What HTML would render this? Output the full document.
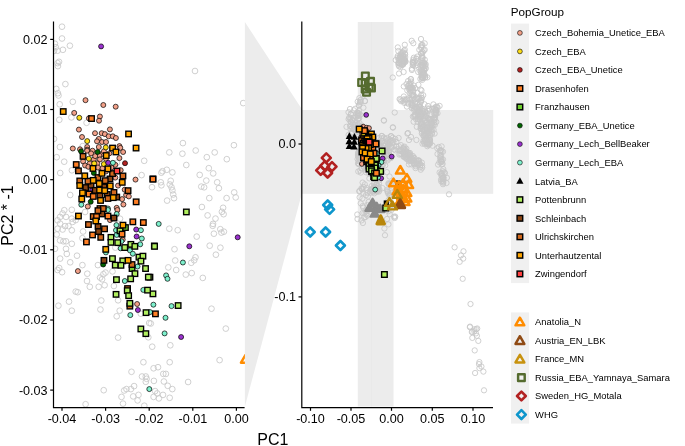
<!DOCTYPE html>
<html><head><meta charset="utf-8"><title>PCA</title>
<style>html,body{margin:0;padding:0;background:#fff;overflow:hidden}body{width:685px;height:446px}svg{display:block;will-change:transform}</style></head>
<body>
<svg width="685" height="446" viewBox="0 0 685 446" font-family="Liberation Sans, sans-serif">
<rect width="685" height="446" fill="#fff"/>
<polygon points="244.9,22 301.8,109 301.8,193.8 244.9,406.5" fill="#ececec"/>
<rect x="357.8" y="22" width="35.7" height="384.5" fill="#ececec"/>
<rect x="371.1" y="22" width="0.5" height="384.5" fill="#e6e6e6"/>
<rect x="301.8" y="110" width="191.4" height="83.8" fill="#ececec"/>
<defs><clipPath id="cl"><rect x="53.5" y="22" width="191.4" height="385"/></clipPath></defs>
<g clip-path="url(#cl)">
<g fill="none" stroke="#c8c8c8" stroke-width="0.85">
<circle cx="62" cy="26.7" r="2.85"/>
<circle cx="62" cy="38.5" r="2.85"/>
<circle cx="69.9" cy="45.7" r="2.85"/>
<circle cx="54.9" cy="43.7" r="2.85"/>
<circle cx="55.8" cy="47.3" r="2.85"/>
<circle cx="57.6" cy="50.7" r="2.85"/>
<circle cx="62.9" cy="49.8" r="2.85"/>
<circle cx="59" cy="61.8" r="2.85"/>
<circle cx="57.6" cy="63.1" r="2.85"/>
<circle cx="57.9" cy="66.1" r="2.85"/>
<circle cx="65.4" cy="84.1" r="2.85"/>
<circle cx="56.3" cy="88.9" r="2.85"/>
<circle cx="57.9" cy="93.2" r="2.85"/>
<circle cx="54" cy="50.9" r="2.85"/>
<circle cx="195" cy="71" r="2.85"/>
<circle cx="58.5" cy="95.5" r="2.85"/>
<circle cx="72.8" cy="101.8" r="2.85"/>
<circle cx="59.7" cy="104.3" r="2.85"/>
<circle cx="59.3" cy="119.8" r="2.85"/>
<circle cx="71.4" cy="117.4" r="2.85"/>
<circle cx="86.6" cy="122.8" r="2.85"/>
<circle cx="59.9" cy="147" r="2.85"/>
<circle cx="56.7" cy="157.2" r="2.85"/>
<circle cx="64.2" cy="161.7" r="2.85"/>
<circle cx="71.9" cy="170.3" r="2.85"/>
<circle cx="60.2" cy="173" r="2.85"/>
<circle cx="162.5" cy="171.2" r="2.85"/>
<circle cx="54" cy="138.9" r="2.85"/>
<circle cx="82.7" cy="146.1" r="2.85"/>
<circle cx="243.2" cy="103.1" r="2.85"/>
<circle cx="182.9" cy="143.1" r="2.85"/>
<circle cx="233.9" cy="145.2" r="2.85"/>
<circle cx="144.2" cy="160.8" r="2.85"/>
<circle cx="141.6" cy="175.1" r="2.85"/>
<circle cx="152" cy="187.2" r="2.85"/>
<circle cx="116.9" cy="162.8" r="2.85"/>
<circle cx="85.1" cy="212" r="2.85"/>
<circle cx="83.1" cy="231.5" r="2.85"/>
<circle cx="82.4" cy="238.2" r="2.85"/>
<circle cx="77" cy="255.7" r="2.85"/>
<circle cx="82.4" cy="265.1" r="2.85"/>
<circle cx="97.9" cy="265.1" r="2.85"/>
<circle cx="75.7" cy="220.1" r="2.85"/>
<circle cx="120" cy="218.7" r="2.85"/>
<circle cx="115.3" cy="247.6" r="2.85"/>
<circle cx="169.3" cy="152.4" r="2.85"/>
<circle cx="182.4" cy="153.7" r="2.85"/>
<circle cx="195.7" cy="150.5" r="2.85"/>
<circle cx="214.7" cy="152.4" r="2.85"/>
<circle cx="206.8" cy="157.2" r="2.85"/>
<circle cx="226.8" cy="159.2" r="2.85"/>
<circle cx="186.3" cy="165" r="2.85"/>
<circle cx="208.8" cy="168.2" r="2.85"/>
<circle cx="166.8" cy="169.8" r="2.85"/>
<circle cx="161.4" cy="172.7" r="2.85"/>
<circle cx="172.4" cy="172.4" r="2.85"/>
<circle cx="213.2" cy="173.4" r="2.85"/>
<circle cx="199.7" cy="174.9" r="2.85"/>
<circle cx="206.3" cy="180.6" r="2.85"/>
<circle cx="170.7" cy="180.8" r="2.85"/>
<circle cx="160.8" cy="182.3" r="2.85"/>
<circle cx="161.4" cy="185.3" r="2.85"/>
<circle cx="169.8" cy="184.5" r="2.85"/>
<circle cx="171.5" cy="187.3" r="2.85"/>
<circle cx="172.4" cy="190.3" r="2.85"/>
<circle cx="173.2" cy="194.5" r="2.85"/>
<circle cx="174" cy="198.2" r="2.85"/>
<circle cx="217.2" cy="182.3" r="2.85"/>
<circle cx="218.9" cy="188.2" r="2.85"/>
<circle cx="201.3" cy="186.6" r="2.85"/>
<circle cx="204.1" cy="187.3" r="2.85"/>
<circle cx="234.2" cy="192.4" r="2.85"/>
<circle cx="235.7" cy="197.4" r="2.85"/>
<circle cx="226.6" cy="198.1" r="2.85"/>
<circle cx="209.3" cy="198.1" r="2.85"/>
<circle cx="167.1" cy="200.6" r="2.85"/>
<circle cx="201.9" cy="207" r="2.85"/>
<circle cx="223.1" cy="207.8" r="2.85"/>
<circle cx="221.9" cy="211.8" r="2.85"/>
<circle cx="223.6" cy="214.2" r="2.85"/>
<circle cx="207.6" cy="215.4" r="2.85"/>
<circle cx="215.5" cy="218.6" r="2.85"/>
<circle cx="213" cy="223.9" r="2.85"/>
<circle cx="169.3" cy="228.7" r="2.85"/>
<circle cx="177.7" cy="230.2" r="2.85"/>
<circle cx="212.7" cy="225.8" r="2.85"/>
<circle cx="220.3" cy="229.2" r="2.85"/>
<circle cx="223.9" cy="231.7" r="2.85"/>
<circle cx="221.4" cy="232.6" r="2.85"/>
<circle cx="213.9" cy="233.7" r="2.85"/>
<circle cx="196.7" cy="236.6" r="2.85"/>
<circle cx="209.7" cy="245.7" r="2.85"/>
<circle cx="220.4" cy="247.7" r="2.85"/>
<circle cx="174.5" cy="249.2" r="2.85"/>
<circle cx="215.9" cy="254.7" r="2.85"/>
<circle cx="195.5" cy="257.3" r="2.85"/>
<circle cx="194.2" cy="260.3" r="2.85"/>
<circle cx="191.2" cy="262.8" r="2.85"/>
<circle cx="175.2" cy="260.5" r="2.85"/>
<circle cx="168.3" cy="267.4" r="2.85"/>
<circle cx="176.2" cy="270" r="2.85"/>
<circle cx="191.7" cy="273.1" r="2.85"/>
<circle cx="185.8" cy="274.6" r="2.85"/>
<circle cx="202.8" cy="277.9" r="2.85"/>
<circle cx="211.5" cy="308.7" r="2.85"/>
<circle cx="225.8" cy="328.6" r="2.85"/>
<circle cx="150.8" cy="323.5" r="2.85"/>
<circle cx="152.2" cy="346.7" r="2.85"/>
<circle cx="170.3" cy="345.3" r="2.85"/>
<circle cx="143.4" cy="362.2" r="2.85"/>
<circle cx="169.7" cy="362.2" r="2.85"/>
<circle cx="219.6" cy="360.1" r="2.85"/>
<circle cx="153.6" cy="368.3" r="2.85"/>
<circle cx="158" cy="367.2" r="2.85"/>
<circle cx="131.5" cy="371.8" r="2.85"/>
<circle cx="163.3" cy="373.9" r="2.85"/>
<circle cx="165.9" cy="373.9" r="2.85"/>
<circle cx="142" cy="376.5" r="2.85"/>
<circle cx="145.8" cy="376.5" r="2.85"/>
<circle cx="146.6" cy="378.8" r="2.85"/>
<circle cx="145.8" cy="381.8" r="2.85"/>
<circle cx="153.9" cy="380.9" r="2.85"/>
<circle cx="163.9" cy="381.5" r="2.85"/>
<circle cx="188.1" cy="382" r="2.85"/>
<circle cx="167.7" cy="385.8" r="2.85"/>
<circle cx="172.3" cy="389.1" r="2.85"/>
<circle cx="134.1" cy="386.1" r="2.85"/>
<circle cx="130.9" cy="389.1" r="2.85"/>
<circle cx="126.5" cy="389.1" r="2.85"/>
<circle cx="124.2" cy="390.5" r="2.85"/>
<circle cx="103.7" cy="390.2" r="2.85"/>
<circle cx="155.1" cy="391.1" r="2.85"/>
<circle cx="157.2" cy="393.4" r="2.85"/>
<circle cx="163" cy="394.9" r="2.85"/>
<circle cx="121.5" cy="396.9" r="2.85"/>
<circle cx="133.2" cy="396.4" r="2.85"/>
<circle cx="138.5" cy="394.9" r="2.85"/>
<circle cx="153.6" cy="396.9" r="2.85"/>
<circle cx="158.9" cy="398.4" r="2.85"/>
<circle cx="169.7" cy="397.8" r="2.85"/>
<circle cx="137.6" cy="400.4" r="2.85"/>
<circle cx="123" cy="403.6" r="2.85"/>
<circle cx="144.3" cy="405.7" r="2.85"/>
<circle cx="85.6" cy="404.2" r="2.85"/>
<circle cx="57.6" cy="270" r="2.85"/>
<circle cx="62.1" cy="272.2" r="2.85"/>
<circle cx="59.2" cy="268" r="2.85"/>
<circle cx="87.3" cy="273.7" r="2.85"/>
<circle cx="87" cy="281" r="2.85"/>
<circle cx="89.8" cy="286.8" r="2.85"/>
<circle cx="98.7" cy="286.8" r="2.85"/>
<circle cx="104.6" cy="285.2" r="2.85"/>
<circle cx="100.1" cy="277.6" r="2.85"/>
<circle cx="102.1" cy="279.3" r="2.85"/>
<circle cx="103.4" cy="274.2" r="2.85"/>
<circle cx="105.5" cy="272.6" r="2.85"/>
<circle cx="112.5" cy="271.4" r="2.85"/>
<circle cx="113.9" cy="286" r="2.85"/>
<circle cx="77.7" cy="292.2" r="2.85"/>
<circle cx="75.7" cy="291.6" r="2.85"/>
<circle cx="69" cy="301.6" r="2.85"/>
<circle cx="58.4" cy="305.7" r="2.85"/>
<circle cx="71.8" cy="310.7" r="2.85"/>
<circle cx="101.3" cy="300.5" r="2.85"/>
<circle cx="100.4" cy="309.5" r="2.85"/>
<circle cx="118.1" cy="300.3" r="2.85"/>
<circle cx="119.7" cy="310.7" r="2.85"/>
<circle cx="116.7" cy="316.3" r="2.85"/>
<circle cx="149.2" cy="323" r="2.85"/>
<circle cx="118.1" cy="337.6" r="2.85"/>
<circle cx="148.3" cy="337.3" r="2.85"/>
<circle cx="140.8" cy="313.7" r="2.85"/>
<circle cx="70.2" cy="195" r="2.85"/>
<circle cx="64.3" cy="210.2" r="2.85"/>
<circle cx="71.8" cy="209.8" r="2.85"/>
<circle cx="62.6" cy="213.5" r="2.85"/>
<circle cx="60.1" cy="216.9" r="2.85"/>
<circle cx="57.6" cy="220.3" r="2.85"/>
<circle cx="66" cy="216.9" r="2.85"/>
<circle cx="71.8" cy="218.6" r="2.85"/>
<circle cx="72.7" cy="221.9" r="2.85"/>
<circle cx="60.1" cy="223.6" r="2.85"/>
<circle cx="65.1" cy="226.1" r="2.85"/>
<circle cx="68.5" cy="226.1" r="2.85"/>
<circle cx="57.6" cy="228.7" r="2.85"/>
<circle cx="62.6" cy="229.5" r="2.85"/>
<circle cx="71.8" cy="230.3" r="2.85"/>
<circle cx="56.7" cy="234.5" r="2.85"/>
<circle cx="60.1" cy="240.4" r="2.85"/>
<circle cx="63.4" cy="241.3" r="2.85"/>
<circle cx="66" cy="241.3" r="2.85"/>
<circle cx="71.8" cy="243.8" r="2.85"/>
<circle cx="55" cy="248.8" r="2.85"/>
<circle cx="66" cy="248.8" r="2.85"/>
<circle cx="60.1" cy="258.6" r="2.85"/>
<circle cx="70.2" cy="262.3" r="2.85"/>
<circle cx="66.8" cy="253.9" r="2.85"/>
</g>
<g fill="#F2A088" stroke="#000" stroke-width="0.7">
<circle cx="85.5" cy="100.2" r="2.5"/>
<circle cx="103.3" cy="105" r="2.5"/>
<circle cx="115.7" cy="106.7" r="2.5"/>
<circle cx="74.2" cy="112.9" r="2.5"/>
<circle cx="99.9" cy="116.5" r="2.5"/>
<circle cx="99" cy="120.7" r="2.5"/>
<circle cx="88.9" cy="118.3" r="2.5"/>
<circle cx="78.9" cy="129.6" r="2.5"/>
<circle cx="109.9" cy="129.4" r="2.5"/>
<circle cx="95" cy="133.2" r="2.5"/>
<circle cx="101.7" cy="133.2" r="2.5"/>
<circle cx="104.9" cy="134.1" r="2.5"/>
<circle cx="108.7" cy="136.3" r="2.5"/>
<circle cx="112.8" cy="136.3" r="2.5"/>
<circle cx="115.9" cy="138" r="2.5"/>
<circle cx="82" cy="137" r="2.5"/>
<circle cx="98.8" cy="138.9" r="2.5"/>
<circle cx="102" cy="142" r="2.5"/>
<circle cx="97" cy="141.3" r="2.5"/>
<circle cx="106" cy="142" r="2.5"/>
<circle cx="98.8" cy="147" r="2.5"/>
<circle cx="87.2" cy="147" r="2.5"/>
<circle cx="72.8" cy="148.5" r="2.5"/>
<circle cx="80" cy="149.3" r="2.5"/>
<circle cx="87.2" cy="149.7" r="2.5"/>
<circle cx="119.4" cy="146.1" r="2.5"/>
<circle cx="120.3" cy="147.9" r="2.5"/>
<circle cx="83.1" cy="161.4" r="2.5"/>
<circle cx="93.8" cy="159.4" r="2.5"/>
<circle cx="105.9" cy="158.7" r="2.5"/>
<circle cx="101.9" cy="154" r="2.5"/>
<circle cx="109.3" cy="153.4" r="2.5"/>
<circle cx="92.5" cy="150.7" r="2.5"/>
<circle cx="99.2" cy="155.4" r="2.5"/>
<circle cx="85.1" cy="165.5" r="2.5"/>
<circle cx="105.9" cy="171.5" r="2.5"/>
<circle cx="115.3" cy="164.8" r="2.5"/>
<circle cx="119.4" cy="158.1" r="2.5"/>
<circle cx="87.1" cy="150.7" r="2.5"/>
<circle cx="91.1" cy="153.4" r="2.5"/>
<circle cx="103.9" cy="151.3" r="2.5"/>
<circle cx="123.1" cy="152" r="2.5"/>
<circle cx="95.2" cy="156.1" r="2.5"/>
<circle cx="99.9" cy="159.4" r="2.5"/>
<circle cx="89.8" cy="163.4" r="2.5"/>
<circle cx="97.2" cy="163.4" r="2.5"/>
<circle cx="88.4" cy="166.8" r="2.5"/>
<circle cx="97.9" cy="167.5" r="2.5"/>
<circle cx="102.6" cy="168.2" r="2.5"/>
<circle cx="120.7" cy="170.2" r="2.5"/>
<circle cx="111.3" cy="167.5" r="2.5"/>
<circle cx="115.3" cy="177.6" r="2.5"/>
<circle cx="118" cy="185.6" r="2.5"/>
<circle cx="135.5" cy="179.6" r="2.5"/>
<circle cx="124.7" cy="189.7" r="2.5"/>
<circle cx="126.1" cy="195" r="2.5"/>
<circle cx="128.8" cy="196.4" r="2.5"/>
<circle cx="122.1" cy="199.1" r="2.5"/>
<circle cx="123.4" cy="204.5" r="2.5"/>
<circle cx="116.7" cy="207.8" r="2.5"/>
<circle cx="87.8" cy="206.5" r="2.5"/>
<circle cx="110" cy="220.1" r="2.5"/>
<circle cx="122.7" cy="239.6" r="2.5"/>
<circle cx="129.5" cy="248.3" r="2.5"/>
<circle cx="117.4" cy="210" r="2.5"/>
<circle cx="77.9" cy="271.1" r="2.5"/>
<circle cx="137.1" cy="304" r="2.5"/>
</g>
<g fill="#FCDC16" stroke="#000" stroke-width="0.7">
<circle cx="79.3" cy="117.8" r="2.5"/>
<circle cx="87.2" cy="141.1" r="2.5"/>
<circle cx="105.8" cy="147.4" r="2.5"/>
<circle cx="88.8" cy="158.7" r="2.5"/>
<circle cx="94.2" cy="163.4" r="2.5"/>
<circle cx="103.9" cy="164.1" r="2.5"/>
</g>
<g fill="#B22222" stroke="#000" stroke-width="0.7">
<circle cx="125" cy="163.2" r="2.5"/>
</g>
<g fill="#006400" stroke="#000" stroke-width="0.7">
<circle cx="81.1" cy="151.3" r="2.5"/>
<circle cx="97.6" cy="152" r="2.5"/>
<circle cx="93.8" cy="172.9" r="2.5"/>
<circle cx="90.7" cy="201.8" r="2.5"/>
<circle cx="103.2" cy="264.5" r="2.5"/>
</g>
<g fill="#9A32CD" stroke="#000" stroke-width="0.7">
<circle cx="101.1" cy="46.4" r="2.5"/>
<circle cx="108.2" cy="162.8" r="2.5"/>
<circle cx="92.2" cy="190.1" r="2.5"/>
<circle cx="136.2" cy="229.5" r="2.5"/>
<circle cx="136.6" cy="236.5" r="2.5"/>
<circle cx="189.3" cy="246.3" r="2.5"/>
<circle cx="237.7" cy="237.3" r="2.5"/>
<circle cx="181.1" cy="337" r="2.5"/>
<circle cx="137.9" cy="310" r="2.5"/>
</g>
<g fill="#7DF0CC" stroke="#000" stroke-width="0.7">
<circle cx="112.9" cy="162.8" r="2.5"/>
<circle cx="81.3" cy="204.7" r="2.5"/>
<circle cx="107.9" cy="208.5" r="2.5"/>
<circle cx="107.9" cy="210" r="2.5"/>
<circle cx="116.7" cy="214" r="2.5"/>
<circle cx="116.4" cy="225.1" r="2.5"/>
<circle cx="116" cy="230.2" r="2.5"/>
<circle cx="116.7" cy="234.9" r="2.5"/>
<circle cx="121.4" cy="241.2" r="2.5"/>
<circle cx="120.7" cy="248.3" r="2.5"/>
<circle cx="129.9" cy="250.3" r="2.5"/>
<circle cx="132.8" cy="253.7" r="2.5"/>
<circle cx="140.9" cy="230.2" r="2.5"/>
<circle cx="141.8" cy="238.5" r="2.5"/>
<circle cx="140.2" cy="244.3" r="2.5"/>
<circle cx="137.5" cy="266.5" r="2.5"/>
<circle cx="105.9" cy="252.4" r="2.5"/>
<circle cx="158.7" cy="223.9" r="2.5"/>
<circle cx="182.9" cy="262.5" r="2.5"/>
<circle cx="166.1" cy="275.4" r="2.5"/>
<circle cx="167.5" cy="278.8" r="2.5"/>
<circle cx="153.4" cy="304.7" r="2.5"/>
<circle cx="171.5" cy="306.1" r="2.5"/>
<circle cx="165.5" cy="317.8" r="2.5"/>
<circle cx="164.6" cy="333.4" r="2.5"/>
<circle cx="150" cy="312.1" r="2.5"/>
<circle cx="149.3" cy="389.1" r="2.5"/>
<circle cx="124.8" cy="281" r="2.5"/>
<circle cx="143.3" cy="289.9" r="2.5"/>
<circle cx="130.3" cy="315.1" r="2.5"/>
</g>
<g fill="#6FCF2F" stroke="#000" stroke-width="1.35">
<rect x="122.7" y="224.8" width="5.5" height="5.5"/>
<rect x="129.3" y="265.8" width="5.5" height="5.5"/>
</g>
<g fill="#8B4513" stroke="#000" stroke-width="1.35">
<rect x="93.8" y="177.6" width="5.5" height="5.5"/>
<rect x="104.5" y="191.7" width="5.5" height="5.5"/>
<rect x="114" y="194.3" width="5.5" height="5.5"/>
<rect x="83" y="184.8" width="5.5" height="5.5"/>
<rect x="101.2" y="184.2" width="5.5" height="5.5"/>
<rect x="97.2" y="192.9" width="5.5" height="5.5"/>
<rect x="88.3" y="182.4" width="5.5" height="5.5"/>
<rect x="107.2" y="176.2" width="5.5" height="5.5"/>
<rect x="92.5" y="187.6" width="5.5" height="5.5"/>
<rect x="99.2" y="211.2" width="5.5" height="5.5"/>
<rect x="111.2" y="215.3" width="5.5" height="5.5"/>
<rect x="95.3" y="223.7" width="5.5" height="5.5"/>
<rect x="95.8" y="228.8" width="5.5" height="5.5"/>
<rect x="101.2" y="257.6" width="5.5" height="5.5"/>
</g>
<g fill="#D2691E" stroke="#000" stroke-width="1.35">
<rect x="80.3" y="153.6" width="5.5" height="5.5"/>
<rect x="75.7" y="168.1" width="5.5" height="5.5"/>
<rect x="120.2" y="173.2" width="5.5" height="5.5"/>
<rect x="109.8" y="170.8" width="5.5" height="5.5"/>
<rect x="102.5" y="177.9" width="5.5" height="5.5"/>
<rect x="85.2" y="178.4" width="5.5" height="5.5"/>
<rect x="77" y="178.2" width="5.5" height="5.5"/>
<rect x="125.3" y="187.9" width="5.5" height="5.5"/>
<rect x="111.2" y="189.7" width="5.5" height="5.5"/>
<rect x="105.2" y="195.7" width="5.5" height="5.5"/>
<rect x="95.2" y="174.8" width="5.5" height="5.5"/>
<rect x="97.2" y="205.8" width="5.5" height="5.5"/>
<rect x="100.5" y="205.8" width="5.5" height="5.5"/>
<rect x="95.2" y="207.9" width="5.5" height="5.5"/>
<rect x="90.5" y="213.8" width="5.5" height="5.5"/>
<rect x="85.7" y="221.8" width="5.5" height="5.5"/>
<rect x="101.8" y="226.1" width="5.5" height="5.5"/>
<rect x="98" y="234.6" width="5.5" height="5.5"/>
<rect x="129.3" y="261.8" width="5.5" height="5.5"/>
<rect x="124.8" y="285.8" width="5.5" height="5.5"/>
<rect x="127.1" y="303.4" width="5.5" height="5.5"/>
</g>
<g fill="#B0EE5E" stroke="#000" stroke-width="1.35">
<rect x="117.2" y="228.1" width="5.5" height="5.5"/>
<rect x="108.2" y="234.6" width="5.5" height="5.5"/>
<rect x="108.2" y="239.6" width="5.5" height="5.5"/>
<rect x="115" y="239.9" width="5.5" height="5.5"/>
<rect x="122" y="244.8" width="5.5" height="5.5"/>
<rect x="128.1" y="241.6" width="5.5" height="5.5"/>
<rect x="132.1" y="243.6" width="5.5" height="5.5"/>
<rect x="151.6" y="243.2" width="5.5" height="5.5"/>
<rect x="109.7" y="255.9" width="5.5" height="5.5"/>
<rect x="120" y="258.1" width="5.5" height="5.5"/>
<rect x="112.5" y="262.4" width="5.5" height="5.5"/>
<rect x="118.2" y="262.6" width="5.5" height="5.5"/>
<rect x="136.2" y="254.4" width="5.5" height="5.5"/>
<rect x="140.2" y="253.4" width="5.5" height="5.5"/>
<rect x="138.2" y="258.4" width="5.5" height="5.5"/>
<rect x="142.8" y="265.8" width="5.5" height="5.5"/>
<rect x="183.6" y="209.2" width="5.5" height="5.5"/>
<rect x="151.8" y="243.6" width="5.5" height="5.5"/>
<rect x="150.2" y="291.1" width="5.5" height="5.5"/>
<rect x="147.2" y="274.4" width="5.5" height="5.5"/>
<rect x="175.4" y="302.8" width="5.5" height="5.5"/>
<rect x="132.2" y="270.9" width="5.5" height="5.5"/>
<rect x="127.9" y="276.1" width="5.5" height="5.5"/>
<rect x="145.6" y="274.4" width="5.5" height="5.5"/>
<rect x="113.7" y="276.9" width="5.5" height="5.5"/>
<rect x="124.5" y="287.9" width="5.5" height="5.5"/>
<rect x="144.8" y="287.4" width="5.5" height="5.5"/>
<rect x="113.3" y="291.6" width="5.5" height="5.5"/>
<rect x="125.9" y="292.9" width="5.5" height="5.5"/>
<rect x="127.1" y="300.6" width="5.5" height="5.5"/>
<rect x="143.3" y="309.9" width="5.5" height="5.5"/>
<rect x="138.1" y="326.2" width="5.5" height="5.5"/>
<rect x="143.1" y="330.9" width="5.5" height="5.5"/>
</g>
<g fill="#FF7F24" stroke="#000" stroke-width="1.35">
<rect x="88.8" y="115.8" width="5.5" height="5.5"/>
<rect x="73.5" y="161.8" width="5.5" height="5.5"/>
<rect x="150.2" y="176.2" width="5.5" height="5.5"/>
<rect x="86.3" y="191.3" width="5.5" height="5.5"/>
<rect x="133.4" y="199.1" width="5.5" height="5.5"/>
<rect x="90.5" y="193.7" width="5.5" height="5.5"/>
<rect x="93.8" y="213.9" width="5.5" height="5.5"/>
<rect x="105.2" y="213.3" width="5.5" height="5.5"/>
<rect x="130.1" y="219.1" width="5.5" height="5.5"/>
<rect x="140.6" y="219.8" width="5.5" height="5.5"/>
<rect x="89.8" y="232.2" width="5.5" height="5.5"/>
<rect x="83.7" y="239.2" width="5.5" height="5.5"/>
<rect x="119.3" y="231.4" width="5.5" height="5.5"/>
<rect x="150.2" y="176.4" width="5.5" height="5.5"/>
<rect x="152.7" y="311.1" width="5.5" height="5.5"/>
</g>
<g fill="#FFA500" stroke="#000" stroke-width="1.35">
<rect x="60.5" y="108.8" width="5.5" height="5.5"/>
<rect x="125.8" y="131.2" width="5.5" height="5.5"/>
<rect x="133.3" y="145.3" width="5.5" height="5.5"/>
<rect x="109.8" y="145.3" width="5.5" height="5.5"/>
<rect x="113.2" y="149.2" width="5.5" height="5.5"/>
<rect x="103.5" y="152.8" width="5.5" height="5.5"/>
<rect x="90.2" y="165.7" width="5.5" height="5.5"/>
<rect x="105.2" y="166.1" width="5.5" height="5.5"/>
<rect x="99.2" y="170.6" width="5.5" height="5.5"/>
<rect x="82" y="173.1" width="5.5" height="5.5"/>
<rect x="90.5" y="177.6" width="5.5" height="5.5"/>
<rect x="96.5" y="180.8" width="5.5" height="5.5"/>
<rect x="119.5" y="179.6" width="5.5" height="5.5"/>
<rect x="107.5" y="183.2" width="5.5" height="5.5"/>
<rect x="77" y="182.8" width="5.5" height="5.5"/>
<rect x="96.8" y="187.3" width="5.5" height="5.5"/>
<rect x="102" y="187.9" width="5.5" height="5.5"/>
<rect x="79.7" y="190.1" width="5.5" height="5.5"/>
<rect x="110.5" y="194.9" width="5.5" height="5.5"/>
<rect x="97.8" y="197.7" width="5.5" height="5.5"/>
<rect x="79" y="196.3" width="5.5" height="5.5"/>
<rect x="75.7" y="213.3" width="5.5" height="5.5"/>
<rect x="93" y="218.2" width="5.5" height="5.5"/>
<rect x="120.2" y="222.4" width="5.5" height="5.5"/>
<rect x="103" y="246.6" width="5.5" height="5.5"/>
<rect x="125.3" y="257.6" width="5.5" height="5.5"/>
</g>
<g fill="#FF4040" stroke="#000" stroke-width="1.35">
<rect x="114.2" y="168.3" width="5.5" height="5.5"/>
</g>
<polygon points="245.4,355.1 241,362.7 249.8,362.7" fill="none" stroke="#FF8C00" stroke-width="2.5" stroke-linejoin="round"/>
</g>
<defs><clipPath id="cr"><rect x="302" y="22" width="192" height="385"/></clipPath></defs>
<g clip-path="url(#cr)">
<g fill="none" stroke="#c8c8c8" stroke-width="0.85">
<circle cx="421" cy="39" r="2.65"/>
<circle cx="411.7" cy="40.8" r="2.65"/>
<circle cx="413.3" cy="43.2" r="2.65"/>
<circle cx="404.8" cy="44.8" r="2.65"/>
<circle cx="421.8" cy="45.2" r="2.65"/>
<circle cx="392.7" cy="77.5" r="2.65"/>
<circle cx="399" cy="73.5" r="2.65"/>
<circle cx="403.6" cy="72" r="2.65"/>
<circle cx="395.7" cy="60" r="2.65"/>
<circle cx="401.4" cy="61.4" r="2.65"/>
<circle cx="401.5" cy="57.6" r="2.65"/>
<circle cx="400" cy="58" r="2.65"/>
<circle cx="404.4" cy="61" r="2.65"/>
<circle cx="404.3" cy="60.1" r="2.65"/>
<circle cx="402.9" cy="59.9" r="2.65"/>
<circle cx="398.3" cy="62.9" r="2.65"/>
<circle cx="403.1" cy="61.3" r="2.65"/>
<circle cx="398.3" cy="51" r="2.65"/>
<circle cx="400" cy="56.8" r="2.65"/>
<circle cx="402.7" cy="58.8" r="2.65"/>
<circle cx="403.1" cy="56" r="2.65"/>
<circle cx="402.7" cy="60.8" r="2.65"/>
<circle cx="400.5" cy="66.9" r="2.65"/>
<circle cx="403.2" cy="64.5" r="2.65"/>
<circle cx="400.6" cy="55.6" r="2.65"/>
<circle cx="401.2" cy="58.5" r="2.65"/>
<circle cx="403.4" cy="60.1" r="2.65"/>
<circle cx="401" cy="54.6" r="2.65"/>
<circle cx="400.9" cy="64.6" r="2.65"/>
<circle cx="400.2" cy="60.1" r="2.65"/>
<circle cx="402.9" cy="52.1" r="2.65"/>
<circle cx="402.1" cy="65" r="2.65"/>
<circle cx="397.6" cy="57.5" r="2.65"/>
<circle cx="401.8" cy="55.2" r="2.65"/>
<circle cx="403.1" cy="58.7" r="2.65"/>
<circle cx="398.8" cy="62.8" r="2.65"/>
<circle cx="403.5" cy="63.4" r="2.65"/>
<circle cx="405.2" cy="60.7" r="2.65"/>
<circle cx="402.3" cy="53" r="2.65"/>
<circle cx="403.4" cy="56.2" r="2.65"/>
<circle cx="401" cy="53.2" r="2.65"/>
<circle cx="399.9" cy="56.6" r="2.65"/>
<circle cx="404.8" cy="49.7" r="2.65"/>
<circle cx="398.8" cy="60.1" r="2.65"/>
<circle cx="405.2" cy="61.7" r="2.65"/>
<circle cx="397.8" cy="47.4" r="2.65"/>
<circle cx="402.8" cy="55.6" r="2.65"/>
<circle cx="399.5" cy="63.5" r="2.65"/>
<circle cx="404.4" cy="59.7" r="2.65"/>
<circle cx="402.5" cy="61" r="2.65"/>
<circle cx="405.5" cy="61.8" r="2.65"/>
<circle cx="403.1" cy="61.5" r="2.65"/>
<circle cx="398.5" cy="64.9" r="2.65"/>
<circle cx="404.1" cy="61.4" r="2.65"/>
<circle cx="397.7" cy="56.1" r="2.65"/>
<circle cx="403.9" cy="50.7" r="2.65"/>
<circle cx="401.6" cy="63.7" r="2.65"/>
<circle cx="399.1" cy="66.4" r="2.65"/>
<circle cx="403.2" cy="58.3" r="2.65"/>
<circle cx="402.7" cy="62" r="2.65"/>
<circle cx="402.3" cy="64.3" r="2.65"/>
<circle cx="400.5" cy="57.1" r="2.65"/>
<circle cx="404.3" cy="59.1" r="2.65"/>
<circle cx="400.1" cy="63.4" r="2.65"/>
<circle cx="405.2" cy="57" r="2.65"/>
<circle cx="399" cy="58.4" r="2.65"/>
<circle cx="401.7" cy="57.6" r="2.65"/>
<circle cx="405.1" cy="54.3" r="2.65"/>
<circle cx="404.8" cy="53.2" r="2.65"/>
<circle cx="421.7" cy="58" r="2.65"/>
<circle cx="423.3" cy="66.7" r="2.65"/>
<circle cx="422.7" cy="52" r="2.65"/>
<circle cx="422.5" cy="44.9" r="2.65"/>
<circle cx="421.5" cy="47" r="2.65"/>
<circle cx="422.6" cy="74.8" r="2.65"/>
<circle cx="421.1" cy="53.6" r="2.65"/>
<circle cx="424.7" cy="43.4" r="2.65"/>
<circle cx="421.8" cy="60.3" r="2.65"/>
<circle cx="421" cy="47.8" r="2.65"/>
<circle cx="423.3" cy="74" r="2.65"/>
<circle cx="422.5" cy="78" r="2.65"/>
<circle cx="424.5" cy="63.4" r="2.65"/>
<circle cx="425.1" cy="77.3" r="2.65"/>
<circle cx="421.4" cy="53.4" r="2.65"/>
<circle cx="420.3" cy="71" r="2.65"/>
<circle cx="422.7" cy="58.1" r="2.65"/>
<circle cx="425.2" cy="77.1" r="2.65"/>
<circle cx="423.1" cy="72.1" r="2.65"/>
<circle cx="422.3" cy="62.5" r="2.65"/>
<circle cx="421.3" cy="45.3" r="2.65"/>
<circle cx="424.6" cy="68.2" r="2.65"/>
<circle cx="427.3" cy="77.4" r="2.65"/>
<circle cx="422.4" cy="57.6" r="2.65"/>
<circle cx="422.5" cy="52.4" r="2.65"/>
<circle cx="424.3" cy="74.8" r="2.65"/>
<circle cx="423" cy="66.5" r="2.65"/>
<circle cx="425.2" cy="65.9" r="2.65"/>
<circle cx="422" cy="70.9" r="2.65"/>
<circle cx="421.7" cy="74.7" r="2.65"/>
<circle cx="422.2" cy="79.9" r="2.65"/>
<circle cx="423.2" cy="77.1" r="2.65"/>
<circle cx="423.8" cy="50.5" r="2.65"/>
<circle cx="424.9" cy="75.2" r="2.65"/>
<circle cx="422.6" cy="78" r="2.65"/>
<circle cx="422.8" cy="63.5" r="2.65"/>
<circle cx="422.3" cy="77.3" r="2.65"/>
<circle cx="420.4" cy="78.9" r="2.65"/>
<circle cx="423.4" cy="74.8" r="2.65"/>
<circle cx="422.2" cy="56" r="2.65"/>
<circle cx="421.3" cy="53" r="2.65"/>
<circle cx="422.2" cy="78.1" r="2.65"/>
<circle cx="424" cy="63.6" r="2.65"/>
<circle cx="421.4" cy="76.9" r="2.65"/>
<circle cx="424.3" cy="62.6" r="2.65"/>
<circle cx="424.7" cy="49.8" r="2.65"/>
<circle cx="419.3" cy="49.8" r="2.65"/>
<circle cx="421.7" cy="65.3" r="2.65"/>
<circle cx="422.8" cy="62.8" r="2.65"/>
<circle cx="422.6" cy="65" r="2.65"/>
<circle cx="421" cy="71.5" r="2.65"/>
<circle cx="424.5" cy="70.2" r="2.65"/>
<circle cx="420.8" cy="65.6" r="2.65"/>
<circle cx="421" cy="69.2" r="2.65"/>
<circle cx="424.8" cy="59.8" r="2.65"/>
<circle cx="425.7" cy="64.3" r="2.65"/>
<circle cx="422.9" cy="76.1" r="2.65"/>
<circle cx="425.9" cy="68.3" r="2.65"/>
<circle cx="423.5" cy="72.5" r="2.65"/>
<circle cx="422.4" cy="71.6" r="2.65"/>
<circle cx="423" cy="72.6" r="2.65"/>
<circle cx="421.6" cy="64.9" r="2.65"/>
<circle cx="423.7" cy="69.6" r="2.65"/>
<circle cx="422.5" cy="65.3" r="2.65"/>
<circle cx="425.1" cy="77.5" r="2.65"/>
<circle cx="424.1" cy="70.4" r="2.65"/>
<circle cx="424.5" cy="69.8" r="2.65"/>
<circle cx="418.2" cy="72" r="2.65"/>
<circle cx="423.5" cy="68.9" r="2.65"/>
<circle cx="421.2" cy="73" r="2.65"/>
<circle cx="412.7" cy="65.1" r="2.65"/>
<circle cx="411.9" cy="70" r="2.65"/>
<circle cx="416.5" cy="62.9" r="2.65"/>
<circle cx="413.1" cy="62.4" r="2.65"/>
<circle cx="411.9" cy="68.7" r="2.65"/>
<circle cx="412.6" cy="61.8" r="2.65"/>
<circle cx="417.7" cy="61.1" r="2.65"/>
<circle cx="414.6" cy="61.5" r="2.65"/>
<circle cx="413.4" cy="63.6" r="2.65"/>
<circle cx="413.8" cy="57.7" r="2.65"/>
<circle cx="415.2" cy="66.2" r="2.65"/>
<circle cx="417.3" cy="56.6" r="2.65"/>
<circle cx="413.4" cy="65.1" r="2.65"/>
<circle cx="416.2" cy="58.5" r="2.65"/>
<circle cx="413.2" cy="59.7" r="2.65"/>
<circle cx="416.9" cy="65" r="2.65"/>
<circle cx="412.7" cy="63" r="2.65"/>
<circle cx="416.7" cy="59.1" r="2.65"/>
<circle cx="419.9" cy="104" r="2.65"/>
<circle cx="410.8" cy="79.1" r="2.65"/>
<circle cx="403.8" cy="86.4" r="2.65"/>
<circle cx="412.8" cy="89.8" r="2.65"/>
<circle cx="411.4" cy="87.4" r="2.65"/>
<circle cx="409.2" cy="84" r="2.65"/>
<circle cx="410.6" cy="85.3" r="2.65"/>
<circle cx="413.3" cy="95.7" r="2.65"/>
<circle cx="408.1" cy="81" r="2.65"/>
<circle cx="411.9" cy="98.4" r="2.65"/>
<circle cx="413.2" cy="91.7" r="2.65"/>
<circle cx="411.1" cy="102.8" r="2.65"/>
<circle cx="411.7" cy="104.1" r="2.65"/>
<circle cx="416.4" cy="97.6" r="2.65"/>
<circle cx="413.4" cy="97.3" r="2.65"/>
<circle cx="410.6" cy="91.4" r="2.65"/>
<circle cx="413.8" cy="85.6" r="2.65"/>
<circle cx="410.7" cy="87.8" r="2.65"/>
<circle cx="418" cy="98.4" r="2.65"/>
<circle cx="410.4" cy="90" r="2.65"/>
<circle cx="413.6" cy="94.9" r="2.65"/>
<circle cx="418.4" cy="84.8" r="2.65"/>
<circle cx="412.7" cy="102.5" r="2.65"/>
<circle cx="410.4" cy="88.2" r="2.65"/>
<circle cx="407.3" cy="90.5" r="2.65"/>
<circle cx="409.3" cy="85.2" r="2.65"/>
<circle cx="412.8" cy="88.6" r="2.65"/>
<circle cx="411" cy="81.5" r="2.65"/>
<circle cx="406.5" cy="84" r="2.65"/>
<circle cx="411.2" cy="95.3" r="2.65"/>
<circle cx="412.8" cy="104.7" r="2.65"/>
<circle cx="418.9" cy="109.7" r="2.65"/>
<circle cx="419" cy="98.4" r="2.65"/>
<circle cx="411.5" cy="99.5" r="2.65"/>
<circle cx="417" cy="104.1" r="2.65"/>
<circle cx="415" cy="88.1" r="2.65"/>
<circle cx="408.8" cy="98.1" r="2.65"/>
<circle cx="412.7" cy="95.6" r="2.65"/>
<circle cx="410.3" cy="83.1" r="2.65"/>
<circle cx="410.9" cy="79.2" r="2.65"/>
<circle cx="409.6" cy="92.9" r="2.65"/>
<circle cx="417.6" cy="92.8" r="2.65"/>
<circle cx="410" cy="99.4" r="2.65"/>
<circle cx="418.1" cy="99.2" r="2.65"/>
<circle cx="412.3" cy="87.7" r="2.65"/>
<circle cx="415.3" cy="104" r="2.65"/>
<circle cx="412.7" cy="105.5" r="2.65"/>
<circle cx="409.6" cy="87.5" r="2.65"/>
<circle cx="412.1" cy="95" r="2.65"/>
<circle cx="409" cy="89.1" r="2.65"/>
<circle cx="410" cy="87.7" r="2.65"/>
<circle cx="407.9" cy="86.3" r="2.65"/>
<circle cx="403.8" cy="96.5" r="2.65"/>
<circle cx="404.3" cy="102.9" r="2.65"/>
<circle cx="402.6" cy="100.6" r="2.65"/>
<circle cx="408.4" cy="103.6" r="2.65"/>
<circle cx="406.9" cy="106.6" r="2.65"/>
<circle cx="405.4" cy="99.8" r="2.65"/>
<circle cx="401.1" cy="101.2" r="2.65"/>
<circle cx="407.4" cy="99.5" r="2.65"/>
<circle cx="404.8" cy="101.7" r="2.65"/>
<circle cx="406.4" cy="99.4" r="2.65"/>
<circle cx="403.9" cy="99.3" r="2.65"/>
<circle cx="399.6" cy="99.1" r="2.65"/>
<circle cx="407.7" cy="103.4" r="2.65"/>
<circle cx="400.4" cy="99.7" r="2.65"/>
<circle cx="421.1" cy="95.2" r="2.65"/>
<circle cx="423.2" cy="95.2" r="2.65"/>
<circle cx="421.7" cy="98.1" r="2.65"/>
<circle cx="419.5" cy="98.2" r="2.65"/>
<circle cx="421.2" cy="100.1" r="2.65"/>
<circle cx="420.6" cy="100.9" r="2.65"/>
<circle cx="421.6" cy="97.8" r="2.65"/>
<circle cx="421.5" cy="90.4" r="2.65"/>
<circle cx="424.5" cy="104.3" r="2.65"/>
<circle cx="420.6" cy="89.6" r="2.65"/>
<circle cx="421.1" cy="101.7" r="2.65"/>
<circle cx="416.3" cy="107.1" r="2.65"/>
<circle cx="433.4" cy="104.4" r="2.65"/>
<circle cx="432.5" cy="108.9" r="2.65"/>
<circle cx="428" cy="106" r="2.65"/>
<circle cx="420.7" cy="128.8" r="2.65"/>
<circle cx="420.5" cy="114.9" r="2.65"/>
<circle cx="424" cy="142.6" r="2.65"/>
<circle cx="418.5" cy="117" r="2.65"/>
<circle cx="412.9" cy="116.6" r="2.65"/>
<circle cx="427.8" cy="133.7" r="2.65"/>
<circle cx="430" cy="137.3" r="2.65"/>
<circle cx="428.9" cy="132.8" r="2.65"/>
<circle cx="421.3" cy="116.8" r="2.65"/>
<circle cx="425.8" cy="117" r="2.65"/>
<circle cx="414.8" cy="109.3" r="2.65"/>
<circle cx="418.9" cy="107.1" r="2.65"/>
<circle cx="417.6" cy="111.8" r="2.65"/>
<circle cx="421" cy="126.3" r="2.65"/>
<circle cx="419.6" cy="116.4" r="2.65"/>
<circle cx="422.9" cy="129.3" r="2.65"/>
<circle cx="425.9" cy="142.4" r="2.65"/>
<circle cx="420.5" cy="112.8" r="2.65"/>
<circle cx="417.2" cy="109.8" r="2.65"/>
<circle cx="426.3" cy="122.4" r="2.65"/>
<circle cx="417.6" cy="121.6" r="2.65"/>
<circle cx="419.8" cy="119.2" r="2.65"/>
<circle cx="420.7" cy="114.2" r="2.65"/>
<circle cx="417.7" cy="118.8" r="2.65"/>
<circle cx="418.2" cy="114.5" r="2.65"/>
<circle cx="413.6" cy="121.7" r="2.65"/>
<circle cx="426.2" cy="135.8" r="2.65"/>
<circle cx="414.8" cy="99.1" r="2.65"/>
<circle cx="421.4" cy="122" r="2.65"/>
<circle cx="425.5" cy="116.4" r="2.65"/>
<circle cx="428.1" cy="136.1" r="2.65"/>
<circle cx="419.3" cy="111.2" r="2.65"/>
<circle cx="428.3" cy="128.2" r="2.65"/>
<circle cx="423.8" cy="125.3" r="2.65"/>
<circle cx="427.4" cy="126.2" r="2.65"/>
<circle cx="422.5" cy="110.8" r="2.65"/>
<circle cx="421.1" cy="117.2" r="2.65"/>
<circle cx="422.9" cy="126.8" r="2.65"/>
<circle cx="412.9" cy="106.1" r="2.65"/>
<circle cx="421.1" cy="122.8" r="2.65"/>
<circle cx="415.1" cy="107.6" r="2.65"/>
<circle cx="423.2" cy="135.5" r="2.65"/>
<circle cx="421.7" cy="124.3" r="2.65"/>
<circle cx="426.3" cy="138" r="2.65"/>
<circle cx="411.8" cy="104.9" r="2.65"/>
<circle cx="420.6" cy="124.4" r="2.65"/>
<circle cx="426.8" cy="139.9" r="2.65"/>
<circle cx="415.9" cy="119" r="2.65"/>
<circle cx="419.7" cy="106.8" r="2.65"/>
<circle cx="424" cy="130.8" r="2.65"/>
<circle cx="420.5" cy="113.9" r="2.65"/>
<circle cx="418.7" cy="109.9" r="2.65"/>
<circle cx="425" cy="140.2" r="2.65"/>
<circle cx="414.7" cy="114.7" r="2.65"/>
<circle cx="428.7" cy="142.4" r="2.65"/>
<circle cx="420.1" cy="111.8" r="2.65"/>
<circle cx="419.4" cy="107.1" r="2.65"/>
<circle cx="430" cy="134.9" r="2.65"/>
<circle cx="429.9" cy="140.8" r="2.65"/>
<circle cx="422.7" cy="109.1" r="2.65"/>
<circle cx="414.9" cy="102.7" r="2.65"/>
<circle cx="419.4" cy="119.8" r="2.65"/>
<circle cx="415.5" cy="106.9" r="2.65"/>
<circle cx="432.5" cy="145.7" r="2.65"/>
<circle cx="414.9" cy="116.2" r="2.65"/>
<circle cx="424.6" cy="135.6" r="2.65"/>
<circle cx="416.8" cy="126.8" r="2.65"/>
<circle cx="414" cy="116.2" r="2.65"/>
<circle cx="411.7" cy="108.1" r="2.65"/>
<circle cx="425.6" cy="133.3" r="2.65"/>
<circle cx="418.7" cy="105.3" r="2.65"/>
<circle cx="426.8" cy="130.8" r="2.65"/>
<circle cx="423.1" cy="113.3" r="2.65"/>
<circle cx="418.5" cy="111.4" r="2.65"/>
<circle cx="424.2" cy="114.6" r="2.65"/>
<circle cx="421.8" cy="133.5" r="2.65"/>
<circle cx="416.6" cy="108.3" r="2.65"/>
<circle cx="429.8" cy="139.5" r="2.65"/>
<circle cx="415.7" cy="115" r="2.65"/>
<circle cx="428.9" cy="144.2" r="2.65"/>
<circle cx="426.8" cy="127.4" r="2.65"/>
<circle cx="421.7" cy="129.4" r="2.65"/>
<circle cx="420.4" cy="116.6" r="2.65"/>
<circle cx="418.3" cy="109.2" r="2.65"/>
<circle cx="420.5" cy="107.3" r="2.65"/>
<circle cx="425.9" cy="115.6" r="2.65"/>
<circle cx="427.2" cy="142.8" r="2.65"/>
<circle cx="412.4" cy="107.7" r="2.65"/>
<circle cx="421.4" cy="124.1" r="2.65"/>
<circle cx="420.8" cy="123.1" r="2.65"/>
<circle cx="425" cy="134.9" r="2.65"/>
<circle cx="424.6" cy="139.7" r="2.65"/>
<circle cx="420.1" cy="116.2" r="2.65"/>
<circle cx="418.9" cy="115.1" r="2.65"/>
<circle cx="423.8" cy="136.3" r="2.65"/>
<circle cx="424.1" cy="118.9" r="2.65"/>
<circle cx="420.2" cy="108.7" r="2.65"/>
<circle cx="430.1" cy="143.7" r="2.65"/>
<circle cx="429" cy="129.5" r="2.65"/>
<circle cx="416.1" cy="107" r="2.65"/>
<circle cx="422.1" cy="110.5" r="2.65"/>
<circle cx="422.5" cy="143.7" r="2.65"/>
<circle cx="420.8" cy="126.3" r="2.65"/>
<circle cx="430.1" cy="142.4" r="2.65"/>
<circle cx="423.7" cy="130.4" r="2.65"/>
<circle cx="418.3" cy="111.6" r="2.65"/>
<circle cx="421.7" cy="125.1" r="2.65"/>
<circle cx="414" cy="108.4" r="2.65"/>
<circle cx="417.4" cy="112.9" r="2.65"/>
<circle cx="424.1" cy="133.9" r="2.65"/>
<circle cx="414.2" cy="110.2" r="2.65"/>
<circle cx="424.9" cy="129.3" r="2.65"/>
<circle cx="421.9" cy="131.7" r="2.65"/>
<circle cx="422" cy="114.9" r="2.65"/>
<circle cx="420.6" cy="128" r="2.65"/>
<circle cx="429.1" cy="131.3" r="2.65"/>
<circle cx="424.9" cy="117.8" r="2.65"/>
<circle cx="426.7" cy="127.7" r="2.65"/>
<circle cx="434.4" cy="108.2" r="2.65"/>
<circle cx="431" cy="119.4" r="2.65"/>
<circle cx="431.6" cy="119" r="2.65"/>
<circle cx="425.1" cy="120.4" r="2.65"/>
<circle cx="428.8" cy="108.4" r="2.65"/>
<circle cx="430.4" cy="125.3" r="2.65"/>
<circle cx="429.8" cy="110.4" r="2.65"/>
<circle cx="428" cy="118" r="2.65"/>
<circle cx="425" cy="111.9" r="2.65"/>
<circle cx="431.3" cy="122.1" r="2.65"/>
<circle cx="427.9" cy="110.9" r="2.65"/>
<circle cx="429.5" cy="129.7" r="2.65"/>
<circle cx="423.2" cy="113.3" r="2.65"/>
<circle cx="428.4" cy="133.5" r="2.65"/>
<circle cx="424.3" cy="121" r="2.65"/>
<circle cx="427.9" cy="133" r="2.65"/>
<circle cx="428.2" cy="132.4" r="2.65"/>
<circle cx="427" cy="130.3" r="2.65"/>
<circle cx="427" cy="129.2" r="2.65"/>
<circle cx="431.3" cy="118.9" r="2.65"/>
<circle cx="427.1" cy="130.4" r="2.65"/>
<circle cx="426.7" cy="113.9" r="2.65"/>
<circle cx="427.1" cy="122" r="2.65"/>
<circle cx="424.5" cy="111.3" r="2.65"/>
<circle cx="429.7" cy="127.6" r="2.65"/>
<circle cx="429" cy="109.1" r="2.65"/>
<circle cx="426.2" cy="128.5" r="2.65"/>
<circle cx="427" cy="130.6" r="2.65"/>
<circle cx="428.3" cy="124.2" r="2.65"/>
<circle cx="426.8" cy="124.9" r="2.65"/>
<circle cx="428.8" cy="119.3" r="2.65"/>
<circle cx="429.5" cy="119.5" r="2.65"/>
<circle cx="433.8" cy="118.6" r="2.65"/>
<circle cx="431.8" cy="123.4" r="2.65"/>
<circle cx="432.1" cy="125.7" r="2.65"/>
<circle cx="435.4" cy="111.1" r="2.65"/>
<circle cx="435.9" cy="109.9" r="2.65"/>
<circle cx="433.8" cy="118.3" r="2.65"/>
<circle cx="434.8" cy="125" r="2.65"/>
<circle cx="431.2" cy="127.7" r="2.65"/>
<circle cx="431.1" cy="122.7" r="2.65"/>
<circle cx="439.6" cy="105.9" r="2.65"/>
<circle cx="432.4" cy="125.6" r="2.65"/>
<circle cx="426.4" cy="133.7" r="2.65"/>
<circle cx="432" cy="133.9" r="2.65"/>
<circle cx="431.8" cy="132.6" r="2.65"/>
<circle cx="433.6" cy="129.9" r="2.65"/>
<circle cx="435.8" cy="112.9" r="2.65"/>
<circle cx="434.6" cy="119.6" r="2.65"/>
<circle cx="434.2" cy="113.3" r="2.65"/>
<circle cx="437.6" cy="107.8" r="2.65"/>
<circle cx="429.1" cy="129.3" r="2.65"/>
<circle cx="436.4" cy="110" r="2.65"/>
<circle cx="432.6" cy="119.8" r="2.65"/>
<circle cx="429.1" cy="129.8" r="2.65"/>
<circle cx="434.6" cy="133.6" r="2.65"/>
<circle cx="430.7" cy="125.3" r="2.65"/>
<circle cx="437.5" cy="113.3" r="2.65"/>
<circle cx="434.9" cy="114.5" r="2.65"/>
<circle cx="436.2" cy="110.5" r="2.65"/>
<circle cx="431.3" cy="131.1" r="2.65"/>
<circle cx="428.2" cy="132.4" r="2.65"/>
<circle cx="435.5" cy="114.8" r="2.65"/>
<circle cx="435.2" cy="109.1" r="2.65"/>
<circle cx="434.3" cy="119.9" r="2.65"/>
<circle cx="435.6" cy="112.1" r="2.65"/>
<circle cx="437" cy="106.6" r="2.65"/>
<circle cx="435.1" cy="118" r="2.65"/>
<circle cx="433.7" cy="124.5" r="2.65"/>
<circle cx="436.3" cy="121.9" r="2.65"/>
<circle cx="436.1" cy="113.4" r="2.65"/>
<circle cx="434.5" cy="122" r="2.65"/>
<circle cx="434.5" cy="117.5" r="2.65"/>
<circle cx="431.4" cy="123.5" r="2.65"/>
<circle cx="429.3" cy="125.3" r="2.65"/>
<circle cx="432" cy="129.8" r="2.65"/>
<circle cx="435.7" cy="106.9" r="2.65"/>
<circle cx="427.5" cy="143.9" r="2.65"/>
<circle cx="427.6" cy="142.6" r="2.65"/>
<circle cx="423.4" cy="141.1" r="2.65"/>
<circle cx="428.3" cy="144.3" r="2.65"/>
<circle cx="425.8" cy="141.1" r="2.65"/>
<circle cx="425.4" cy="139.4" r="2.65"/>
<circle cx="428.2" cy="144.9" r="2.65"/>
<circle cx="427.3" cy="143.7" r="2.65"/>
<circle cx="429.9" cy="140.2" r="2.65"/>
<circle cx="427.5" cy="142.7" r="2.65"/>
<circle cx="429.2" cy="139.6" r="2.65"/>
<circle cx="424.6" cy="143.9" r="2.65"/>
<circle cx="426.3" cy="143.5" r="2.65"/>
<circle cx="428.5" cy="144.1" r="2.65"/>
<circle cx="429.1" cy="143.5" r="2.65"/>
<circle cx="427.5" cy="139.1" r="2.65"/>
<circle cx="429.1" cy="139.7" r="2.65"/>
<circle cx="427.3" cy="146.2" r="2.65"/>
<circle cx="407.4" cy="133.6" r="2.65"/>
<circle cx="411" cy="137" r="2.65"/>
<circle cx="416.4" cy="140" r="2.65"/>
<circle cx="409" cy="140" r="2.65"/>
<circle cx="441.8" cy="161.9" r="2.65"/>
<circle cx="437.5" cy="154" r="2.65"/>
<circle cx="440.6" cy="155.8" r="2.65"/>
<circle cx="440.8" cy="160.8" r="2.65"/>
<circle cx="443.2" cy="181.3" r="2.65"/>
<circle cx="442.4" cy="181.8" r="2.65"/>
<circle cx="441.1" cy="179.4" r="2.65"/>
<circle cx="444.3" cy="172.3" r="2.65"/>
<circle cx="441.6" cy="175.5" r="2.65"/>
<circle cx="440.9" cy="161.7" r="2.65"/>
<circle cx="441.4" cy="162" r="2.65"/>
<circle cx="440.7" cy="150.3" r="2.65"/>
<circle cx="443" cy="151.7" r="2.65"/>
<circle cx="441.2" cy="161.1" r="2.65"/>
<circle cx="438.7" cy="147" r="2.65"/>
<circle cx="442.2" cy="173.1" r="2.65"/>
<circle cx="439.6" cy="172.5" r="2.65"/>
<circle cx="443.3" cy="177.9" r="2.65"/>
<circle cx="446.9" cy="177.8" r="2.65"/>
<circle cx="440.2" cy="152.9" r="2.65"/>
<circle cx="441.6" cy="146.4" r="2.65"/>
<circle cx="443.3" cy="169.1" r="2.65"/>
<circle cx="441.3" cy="159.1" r="2.65"/>
<circle cx="443" cy="177.6" r="2.65"/>
<circle cx="442.6" cy="163.9" r="2.65"/>
<circle cx="440.2" cy="156.7" r="2.65"/>
<circle cx="443" cy="159.4" r="2.65"/>
<circle cx="442.6" cy="179.2" r="2.65"/>
<circle cx="438.1" cy="164.6" r="2.65"/>
<circle cx="440.2" cy="158.6" r="2.65"/>
<circle cx="440.9" cy="155.4" r="2.65"/>
<circle cx="442.8" cy="178.4" r="2.65"/>
<circle cx="440.7" cy="150.2" r="2.65"/>
<circle cx="437.3" cy="148.3" r="2.65"/>
<circle cx="443.6" cy="179.5" r="2.65"/>
<circle cx="441.6" cy="159.6" r="2.65"/>
<circle cx="443" cy="184.2" r="2.65"/>
<circle cx="441.4" cy="173.9" r="2.65"/>
<circle cx="445" cy="173.2" r="2.65"/>
<circle cx="442.9" cy="171.2" r="2.65"/>
<circle cx="439.4" cy="162.3" r="2.65"/>
<circle cx="446.5" cy="183" r="2.65"/>
<circle cx="440" cy="150.4" r="2.65"/>
<circle cx="441.2" cy="181.3" r="2.65"/>
<circle cx="443.3" cy="182.8" r="2.65"/>
<circle cx="441.7" cy="164.5" r="2.65"/>
<circle cx="441.1" cy="173.3" r="2.65"/>
<circle cx="441.7" cy="151.4" r="2.65"/>
<circle cx="443.5" cy="177.2" r="2.65"/>
<circle cx="441.7" cy="176.1" r="2.65"/>
<circle cx="409.5" cy="154.4" r="2.65"/>
<circle cx="400.3" cy="153.9" r="2.65"/>
<circle cx="418.1" cy="165" r="2.65"/>
<circle cx="401.5" cy="154" r="2.65"/>
<circle cx="400.1" cy="150.9" r="2.65"/>
<circle cx="420.2" cy="165.3" r="2.65"/>
<circle cx="422.2" cy="167.7" r="2.65"/>
<circle cx="421.8" cy="162.6" r="2.65"/>
<circle cx="408.7" cy="158.6" r="2.65"/>
<circle cx="400.3" cy="150.7" r="2.65"/>
<circle cx="394.1" cy="149.4" r="2.65"/>
<circle cx="410" cy="160.6" r="2.65"/>
<circle cx="410.3" cy="158.5" r="2.65"/>
<circle cx="406.4" cy="148.8" r="2.65"/>
<circle cx="403.5" cy="153.1" r="2.65"/>
<circle cx="407.7" cy="159" r="2.65"/>
<circle cx="418.7" cy="160.5" r="2.65"/>
<circle cx="415.9" cy="160.5" r="2.65"/>
<circle cx="406.5" cy="158.9" r="2.65"/>
<circle cx="395.4" cy="150.3" r="2.65"/>
<circle cx="412.8" cy="159.5" r="2.65"/>
<circle cx="403.7" cy="155.9" r="2.65"/>
<circle cx="404.1" cy="149.2" r="2.65"/>
<circle cx="398.8" cy="146.1" r="2.65"/>
<circle cx="399.3" cy="154.6" r="2.65"/>
<circle cx="396.4" cy="146.4" r="2.65"/>
<circle cx="418.7" cy="161.3" r="2.65"/>
<circle cx="396.5" cy="146.7" r="2.65"/>
<circle cx="410.5" cy="160.8" r="2.65"/>
<circle cx="414.2" cy="163" r="2.65"/>
<circle cx="420.7" cy="169.7" r="2.65"/>
<circle cx="406.5" cy="152.9" r="2.65"/>
<circle cx="420.1" cy="167.4" r="2.65"/>
<circle cx="403.2" cy="152" r="2.65"/>
<circle cx="403.5" cy="156.7" r="2.65"/>
<circle cx="405.3" cy="155.2" r="2.65"/>
<circle cx="417.8" cy="160.4" r="2.65"/>
<circle cx="403.1" cy="148.1" r="2.65"/>
<circle cx="405.2" cy="153.7" r="2.65"/>
<circle cx="414.5" cy="160.8" r="2.65"/>
<circle cx="411.5" cy="164.4" r="2.65"/>
<circle cx="402.4" cy="149.7" r="2.65"/>
<circle cx="414.5" cy="163.6" r="2.65"/>
<circle cx="413.6" cy="161" r="2.65"/>
<circle cx="406.7" cy="151.8" r="2.65"/>
<circle cx="406" cy="156.6" r="2.65"/>
<circle cx="405.6" cy="150" r="2.65"/>
<circle cx="403.8" cy="154.1" r="2.65"/>
<circle cx="405.2" cy="157.7" r="2.65"/>
<circle cx="408.9" cy="164.4" r="2.65"/>
<circle cx="422.1" cy="165.7" r="2.65"/>
<circle cx="419" cy="163.6" r="2.65"/>
<circle cx="416.6" cy="163.1" r="2.65"/>
<circle cx="400.9" cy="145.1" r="2.65"/>
<circle cx="404.2" cy="152.1" r="2.65"/>
<circle cx="403" cy="148.5" r="2.65"/>
<circle cx="404.5" cy="146.6" r="2.65"/>
<circle cx="403.8" cy="147.3" r="2.65"/>
<circle cx="413.1" cy="157.6" r="2.65"/>
<circle cx="416.8" cy="161.1" r="2.65"/>
<circle cx="409.4" cy="159.7" r="2.65"/>
<circle cx="410" cy="153" r="2.65"/>
<circle cx="403.5" cy="153" r="2.65"/>
<circle cx="411.6" cy="157.4" r="2.65"/>
<circle cx="397.4" cy="149.2" r="2.65"/>
<circle cx="410.1" cy="157.1" r="2.65"/>
<circle cx="413.9" cy="164.3" r="2.65"/>
<circle cx="414.3" cy="157.8" r="2.65"/>
<circle cx="408" cy="154.5" r="2.65"/>
<circle cx="411.9" cy="158.9" r="2.65"/>
<circle cx="409.2" cy="153.3" r="2.65"/>
<circle cx="408" cy="152.6" r="2.65"/>
<circle cx="409.2" cy="155.8" r="2.65"/>
<circle cx="412.6" cy="159.4" r="2.65"/>
<circle cx="415.7" cy="166.3" r="2.65"/>
<circle cx="409.8" cy="155.3" r="2.65"/>
<circle cx="404.5" cy="156.7" r="2.65"/>
<circle cx="415.5" cy="168.1" r="2.65"/>
<circle cx="404.6" cy="154.4" r="2.65"/>
<circle cx="412.9" cy="156" r="2.65"/>
<circle cx="414.9" cy="164.6" r="2.65"/>
<circle cx="401" cy="150.4" r="2.65"/>
<circle cx="419.9" cy="163.5" r="2.65"/>
<circle cx="417.5" cy="164.4" r="2.65"/>
<circle cx="405.9" cy="152.4" r="2.65"/>
<circle cx="416.2" cy="162.9" r="2.65"/>
<circle cx="419" cy="160.6" r="2.65"/>
<circle cx="409" cy="156.1" r="2.65"/>
<circle cx="410.6" cy="156.9" r="2.65"/>
<circle cx="408.8" cy="161.2" r="2.65"/>
<circle cx="393.3" cy="142" r="2.65"/>
<circle cx="396.4" cy="142" r="2.65"/>
<circle cx="395.3" cy="139" r="2.65"/>
<circle cx="388.7" cy="144.5" r="2.65"/>
<circle cx="392.8" cy="137.7" r="2.65"/>
<circle cx="391.9" cy="143.2" r="2.65"/>
<circle cx="390" cy="142.1" r="2.65"/>
<circle cx="388.6" cy="142.6" r="2.65"/>
<circle cx="392.8" cy="140.6" r="2.65"/>
<circle cx="391.3" cy="140.7" r="2.65"/>
<circle cx="394.7" cy="112.5" r="2.65"/>
<circle cx="384" cy="120.6" r="2.65"/>
<circle cx="393" cy="127.6" r="2.65"/>
<circle cx="398.6" cy="138" r="2.65"/>
<circle cx="408" cy="133" r="2.65"/>
<circle cx="391" cy="136" r="2.65"/>
<circle cx="382" cy="136" r="2.65"/>
<circle cx="449" cy="194.3" r="2.65"/>
<circle cx="386" cy="155" r="2.65"/>
<circle cx="391" cy="158" r="2.65"/>
<circle cx="360.7" cy="99.9" r="2.65"/>
<circle cx="352.1" cy="132.3" r="2.65"/>
<circle cx="350" cy="109" r="2.65"/>
<circle cx="348.6" cy="134.9" r="2.65"/>
<circle cx="357.7" cy="101.7" r="2.65"/>
<circle cx="359.1" cy="105.3" r="2.65"/>
<circle cx="361.1" cy="130.2" r="2.65"/>
<circle cx="360.6" cy="101.7" r="2.65"/>
<circle cx="359.4" cy="98.1" r="2.65"/>
<circle cx="354.6" cy="126.7" r="2.65"/>
<circle cx="352.2" cy="120.4" r="2.65"/>
<circle cx="358.4" cy="128" r="2.65"/>
<circle cx="346.5" cy="126.8" r="2.65"/>
<circle cx="363.4" cy="107.7" r="2.65"/>
<circle cx="365" cy="100.9" r="2.65"/>
<circle cx="356.1" cy="130.1" r="2.65"/>
<circle cx="357.7" cy="131.5" r="2.65"/>
<circle cx="359.2" cy="118.3" r="2.65"/>
<circle cx="350.5" cy="122.1" r="2.65"/>
<circle cx="359.8" cy="101.9" r="2.65"/>
<circle cx="352.3" cy="119.9" r="2.65"/>
<circle cx="358.8" cy="105.3" r="2.65"/>
<circle cx="351.1" cy="126.3" r="2.65"/>
<circle cx="364.9" cy="101.2" r="2.65"/>
<circle cx="351" cy="133.1" r="2.65"/>
<circle cx="354.5" cy="130.1" r="2.65"/>
<circle cx="350.9" cy="114" r="2.65"/>
<circle cx="355.1" cy="108.8" r="2.65"/>
<circle cx="353.8" cy="128.7" r="2.65"/>
<circle cx="359.7" cy="103.7" r="2.65"/>
<circle cx="358.3" cy="113.8" r="2.65"/>
<circle cx="362.9" cy="95.9" r="2.65"/>
<circle cx="350.5" cy="129.1" r="2.65"/>
<circle cx="355.1" cy="124.8" r="2.65"/>
<circle cx="351.8" cy="133.2" r="2.65"/>
<circle cx="356.3" cy="117.1" r="2.65"/>
<circle cx="356.3" cy="125.2" r="2.65"/>
<circle cx="353.4" cy="117.7" r="2.65"/>
<circle cx="358.2" cy="113.1" r="2.65"/>
<circle cx="352.2" cy="128.1" r="2.65"/>
<circle cx="353.8" cy="110.3" r="2.65"/>
<circle cx="352.4" cy="127.9" r="2.65"/>
<circle cx="357" cy="112.5" r="2.65"/>
<circle cx="348.6" cy="119.1" r="2.65"/>
<circle cx="350.4" cy="117.9" r="2.65"/>
<circle cx="352.7" cy="123.5" r="2.65"/>
<circle cx="351.1" cy="114.6" r="2.65"/>
<circle cx="349.2" cy="117.6" r="2.65"/>
<circle cx="350.3" cy="119.6" r="2.65"/>
<circle cx="361.9" cy="125.7" r="2.65"/>
<circle cx="351" cy="122" r="2.65"/>
<circle cx="348.5" cy="112.2" r="2.65"/>
<circle cx="354.2" cy="126.7" r="2.65"/>
<circle cx="350" cy="126" r="2.65"/>
<circle cx="352.8" cy="120.2" r="2.65"/>
<circle cx="366.1" cy="214.3" r="2.65"/>
<circle cx="363.2" cy="207.6" r="2.65"/>
<circle cx="367.9" cy="196.5" r="2.65"/>
<circle cx="365.9" cy="210.5" r="2.65"/>
<circle cx="363.6" cy="186.9" r="2.65"/>
<circle cx="366.5" cy="187.9" r="2.65"/>
<circle cx="357.3" cy="214.5" r="2.65"/>
<circle cx="367.4" cy="215.5" r="2.65"/>
<circle cx="368.6" cy="202" r="2.65"/>
<circle cx="359.6" cy="190.9" r="2.65"/>
<circle cx="362.6" cy="213.1" r="2.65"/>
<circle cx="367.4" cy="204.9" r="2.65"/>
<circle cx="364.1" cy="217.5" r="2.65"/>
<circle cx="359.6" cy="197.3" r="2.65"/>
<circle cx="364.4" cy="213.1" r="2.65"/>
<circle cx="362.8" cy="206" r="2.65"/>
<circle cx="365.5" cy="217.1" r="2.65"/>
<circle cx="367.7" cy="207.3" r="2.65"/>
<circle cx="359.3" cy="191.3" r="2.65"/>
<circle cx="362.1" cy="189.4" r="2.65"/>
<circle cx="361.4" cy="188.3" r="2.65"/>
<circle cx="365.9" cy="195.2" r="2.65"/>
<circle cx="362.6" cy="182.6" r="2.65"/>
<circle cx="364.8" cy="184.3" r="2.65"/>
<circle cx="367.9" cy="210.5" r="2.65"/>
<circle cx="361.9" cy="189" r="2.65"/>
<circle cx="366.1" cy="211.4" r="2.65"/>
<circle cx="360.7" cy="203.3" r="2.65"/>
<circle cx="362.4" cy="198.6" r="2.65"/>
<circle cx="367.4" cy="192.9" r="2.65"/>
<circle cx="392.4" cy="205.9" r="2.65"/>
<circle cx="388.1" cy="193.5" r="2.65"/>
<circle cx="390.4" cy="191.2" r="2.65"/>
<circle cx="387.2" cy="189.7" r="2.65"/>
<circle cx="394.7" cy="218" r="2.65"/>
<circle cx="391.8" cy="183.8" r="2.65"/>
<circle cx="387.3" cy="191.2" r="2.65"/>
<circle cx="389.9" cy="194.6" r="2.65"/>
<circle cx="395.2" cy="216.6" r="2.65"/>
<circle cx="387.9" cy="192" r="2.65"/>
<circle cx="388.8" cy="184" r="2.65"/>
<circle cx="394.1" cy="216.7" r="2.65"/>
<circle cx="389.4" cy="195.4" r="2.65"/>
<circle cx="388.4" cy="211.2" r="2.65"/>
<circle cx="390.8" cy="197.5" r="2.65"/>
<circle cx="390.5" cy="204" r="2.65"/>
<circle cx="389.4" cy="207.9" r="2.65"/>
<circle cx="391.8" cy="188.3" r="2.65"/>
<circle cx="389.3" cy="201.9" r="2.65"/>
<circle cx="388.5" cy="200.2" r="2.65"/>
<circle cx="389.8" cy="204" r="2.65"/>
<circle cx="386.7" cy="210.2" r="2.65"/>
<circle cx="389.8" cy="183.9" r="2.65"/>
<circle cx="391.6" cy="209.8" r="2.65"/>
<circle cx="391.2" cy="183.1" r="2.65"/>
<circle cx="389.7" cy="214.2" r="2.65"/>
<circle cx="454.6" cy="247.3" r="2.65"/>
<circle cx="463.5" cy="251.3" r="2.65"/>
<circle cx="461" cy="255.4" r="2.65"/>
<circle cx="463.2" cy="258.6" r="2.65"/>
<circle cx="459.7" cy="261.8" r="2.65"/>
<circle cx="462.7" cy="278.8" r="2.65"/>
<circle cx="470.5" cy="304" r="2.65"/>
<circle cx="470" cy="326.6" r="2.65"/>
<circle cx="474.5" cy="329.3" r="2.65"/>
<circle cx="477.2" cy="328.5" r="2.65"/>
<circle cx="471.8" cy="332" r="2.65"/>
<circle cx="475.9" cy="333.4" r="2.65"/>
<circle cx="469.9" cy="327.2" r="2.65"/>
<circle cx="476.3" cy="329.2" r="2.65"/>
<circle cx="472.3" cy="331.8" r="2.65"/>
<circle cx="474.3" cy="331.2" r="2.65"/>
<circle cx="476.9" cy="335.8" r="2.65"/>
<circle cx="472.3" cy="337.9" r="2.65"/>
<circle cx="478.3" cy="340.9" r="2.65"/>
<circle cx="474.7" cy="350.4" r="2.65"/>
<circle cx="479.4" cy="362.1" r="2.65"/>
<circle cx="479" cy="364.1" r="2.65"/>
<circle cx="481.4" cy="366.5" r="2.65"/>
<circle cx="479.4" cy="368.1" r="2.65"/>
<circle cx="483.4" cy="371.6" r="2.65"/>
<circle cx="475.1" cy="373" r="2.65"/>
<circle cx="484" cy="390.3" r="2.65"/>
<circle cx="357.5" cy="219" r="2.65"/>
<circle cx="361.5" cy="220.4" r="2.65"/>
<circle cx="362.9" cy="223" r="2.65"/>
<circle cx="387" cy="219" r="2.65"/>
<circle cx="388.4" cy="224.4" r="2.65"/>
<circle cx="384.4" cy="228.5" r="2.65"/>
<circle cx="385" cy="235.2" r="2.65"/>
<circle cx="358.9" cy="110.6" r="2.65"/>
<circle cx="358.9" cy="113.2" r="2.65"/>
<circle cx="360.4" cy="114.8" r="2.65"/>
<circle cx="357.6" cy="114.4" r="2.65"/>
<circle cx="357.8" cy="115.1" r="2.65"/>
<circle cx="358.1" cy="115.9" r="2.65"/>
<circle cx="359.1" cy="115.7" r="2.65"/>
<circle cx="358.4" cy="118.3" r="2.65"/>
<circle cx="358.1" cy="118.6" r="2.65"/>
<circle cx="358.2" cy="119.2" r="2.65"/>
<circle cx="359.6" cy="123.2" r="2.65"/>
<circle cx="357.9" cy="124.2" r="2.65"/>
<circle cx="358.2" cy="125.1" r="2.65"/>
<circle cx="357.4" cy="115.9" r="2.65"/>
<circle cx="383.8" cy="120.3" r="2.65"/>
<circle cx="358.3" cy="125.6" r="2.65"/>
<circle cx="361" cy="127" r="2.65"/>
<circle cx="358.5" cy="127.6" r="2.65"/>
<circle cx="358.4" cy="130.9" r="2.65"/>
<circle cx="360.7" cy="130.4" r="2.65"/>
<circle cx="363.5" cy="131.6" r="2.65"/>
<circle cx="358.5" cy="136.9" r="2.65"/>
<circle cx="358" cy="139.1" r="2.65"/>
<circle cx="359.4" cy="140.1" r="2.65"/>
<circle cx="360.8" cy="142" r="2.65"/>
<circle cx="358.6" cy="142.5" r="2.65"/>
<circle cx="377.7" cy="142.1" r="2.65"/>
<circle cx="357.4" cy="135.1" r="2.65"/>
<circle cx="362.8" cy="136.7" r="2.65"/>
<circle cx="392.8" cy="127.3" r="2.65"/>
<circle cx="381.5" cy="136" r="2.65"/>
<circle cx="391" cy="136.5" r="2.65"/>
<circle cx="374.3" cy="139.9" r="2.65"/>
<circle cx="373.8" cy="143" r="2.65"/>
<circle cx="375.7" cy="145.6" r="2.65"/>
<circle cx="369.2" cy="140.3" r="2.65"/>
<circle cx="363.3" cy="151" r="2.65"/>
<circle cx="362.9" cy="155.3" r="2.65"/>
<circle cx="362.7" cy="156.8" r="2.65"/>
<circle cx="361.7" cy="160.6" r="2.65"/>
<circle cx="362.7" cy="162.6" r="2.65"/>
<circle cx="365.6" cy="162.6" r="2.65"/>
<circle cx="361.5" cy="152.8" r="2.65"/>
<circle cx="369.8" cy="152.5" r="2.65"/>
<circle cx="368.9" cy="158.8" r="2.65"/>
<circle cx="379" cy="138" r="2.65"/>
<circle cx="381.4" cy="138.3" r="2.65"/>
<circle cx="383.9" cy="137.6" r="2.65"/>
<circle cx="387.4" cy="138" r="2.65"/>
<circle cx="386" cy="139.1" r="2.65"/>
<circle cx="389.7" cy="139.5" r="2.65"/>
<circle cx="382.1" cy="140.8" r="2.65"/>
<circle cx="386.3" cy="141.5" r="2.65"/>
<circle cx="378.5" cy="141.8" r="2.65"/>
<circle cx="377.5" cy="142.5" r="2.65"/>
<circle cx="379.6" cy="142.4" r="2.65"/>
<circle cx="387.2" cy="142.6" r="2.65"/>
<circle cx="384.6" cy="143" r="2.65"/>
<circle cx="385.9" cy="144.2" r="2.65"/>
<circle cx="379.2" cy="144.2" r="2.65"/>
<circle cx="377.4" cy="144.6" r="2.65"/>
<circle cx="377.5" cy="145.2" r="2.65"/>
<circle cx="379.1" cy="145" r="2.65"/>
<circle cx="379.4" cy="145.7" r="2.65"/>
<circle cx="379.6" cy="146.3" r="2.65"/>
<circle cx="379.7" cy="147.2" r="2.65"/>
<circle cx="379.8" cy="148" r="2.65"/>
<circle cx="387.9" cy="144.6" r="2.65"/>
<circle cx="388.2" cy="145.9" r="2.65"/>
<circle cx="384.9" cy="145.5" r="2.65"/>
<circle cx="385.5" cy="145.7" r="2.65"/>
<circle cx="391.1" cy="146.8" r="2.65"/>
<circle cx="391.4" cy="147.9" r="2.65"/>
<circle cx="389.7" cy="148" r="2.65"/>
<circle cx="386.4" cy="148" r="2.65"/>
<circle cx="378.6" cy="148.6" r="2.65"/>
<circle cx="385.1" cy="150" r="2.65"/>
<circle cx="389" cy="150.1" r="2.65"/>
<circle cx="388.8" cy="151" r="2.65"/>
<circle cx="389.1" cy="151.5" r="2.65"/>
<circle cx="386.1" cy="151.8" r="2.65"/>
<circle cx="387.6" cy="152.5" r="2.65"/>
<circle cx="387.1" cy="153.6" r="2.65"/>
<circle cx="379" cy="154.7" r="2.65"/>
<circle cx="380.5" cy="155" r="2.65"/>
<circle cx="387.1" cy="154" r="2.65"/>
<circle cx="388.5" cy="154.8" r="2.65"/>
<circle cx="389.2" cy="155.3" r="2.65"/>
<circle cx="388.7" cy="155.5" r="2.65"/>
<circle cx="387.3" cy="155.8" r="2.65"/>
<circle cx="384.1" cy="156.4" r="2.65"/>
<circle cx="386.5" cy="158.4" r="2.65"/>
<circle cx="388.5" cy="158.8" r="2.65"/>
<circle cx="379.9" cy="159.2" r="2.65"/>
<circle cx="387.7" cy="160.3" r="2.65"/>
<circle cx="383.9" cy="160.9" r="2.65"/>
<circle cx="383.6" cy="161.6" r="2.65"/>
<circle cx="383.1" cy="162.1" r="2.65"/>
<circle cx="380.1" cy="161.6" r="2.65"/>
<circle cx="378.8" cy="163.1" r="2.65"/>
<circle cx="380.3" cy="163.7" r="2.65"/>
<circle cx="383.2" cy="164.4" r="2.65"/>
<circle cx="382.1" cy="164.7" r="2.65"/>
<circle cx="385.2" cy="165.4" r="2.65"/>
<circle cx="386.9" cy="172.1" r="2.65"/>
<circle cx="389.5" cy="176.5" r="2.65"/>
<circle cx="375.5" cy="175.3" r="2.65"/>
<circle cx="375.8" cy="180.4" r="2.65"/>
<circle cx="379.2" cy="180.1" r="2.65"/>
<circle cx="374.1" cy="183.8" r="2.65"/>
<circle cx="379" cy="183.8" r="2.65"/>
<circle cx="388.4" cy="183.3" r="2.65"/>
<circle cx="376" cy="185.1" r="2.65"/>
<circle cx="376.9" cy="184.9" r="2.65"/>
<circle cx="371.9" cy="185.9" r="2.65"/>
<circle cx="377.9" cy="186.3" r="2.65"/>
<circle cx="378.3" cy="186.3" r="2.65"/>
<circle cx="373.9" cy="186.9" r="2.65"/>
<circle cx="374.6" cy="186.9" r="2.65"/>
<circle cx="374.7" cy="187.4" r="2.65"/>
<circle cx="374.6" cy="188.1" r="2.65"/>
<circle cx="376.1" cy="187.9" r="2.65"/>
<circle cx="378" cy="188" r="2.65"/>
<circle cx="382.5" cy="188.1" r="2.65"/>
<circle cx="378.7" cy="188.9" r="2.65"/>
<circle cx="379.5" cy="189.6" r="2.65"/>
<circle cx="372.4" cy="189" r="2.65"/>
<circle cx="371.8" cy="189.6" r="2.65"/>
<circle cx="371" cy="189.6" r="2.65"/>
<circle cx="370.6" cy="190" r="2.65"/>
<circle cx="366.7" cy="189.9" r="2.65"/>
<circle cx="376.3" cy="190.1" r="2.65"/>
<circle cx="376.7" cy="190.6" r="2.65"/>
<circle cx="377.8" cy="190.9" r="2.65"/>
<circle cx="370" cy="191.3" r="2.65"/>
<circle cx="372.2" cy="191.2" r="2.65"/>
<circle cx="373.2" cy="190.9" r="2.65"/>
<circle cx="376" cy="191.3" r="2.65"/>
<circle cx="377" cy="191.7" r="2.65"/>
<circle cx="379" cy="191.5" r="2.65"/>
<circle cx="373.1" cy="192.1" r="2.65"/>
<circle cx="370.3" cy="192.8" r="2.65"/>
<circle cx="374.3" cy="193.3" r="2.65"/>
<circle cx="363.3" cy="192.9" r="2.65"/>
<circle cx="358.1" cy="163.7" r="2.65"/>
<circle cx="359" cy="164.2" r="2.65"/>
<circle cx="358.4" cy="163.2" r="2.65"/>
<circle cx="363.7" cy="164.5" r="2.65"/>
<circle cx="363.6" cy="166.1" r="2.65"/>
<circle cx="364.1" cy="167.3" r="2.65"/>
<circle cx="365.8" cy="167.3" r="2.65"/>
<circle cx="366.9" cy="167" r="2.65"/>
<circle cx="366.1" cy="165.3" r="2.65"/>
<circle cx="366.4" cy="165.7" r="2.65"/>
<circle cx="366.7" cy="164.6" r="2.65"/>
<circle cx="367.1" cy="164.3" r="2.65"/>
<circle cx="368.4" cy="164" r="2.65"/>
<circle cx="368.6" cy="167.2" r="2.65"/>
<circle cx="361.9" cy="168.5" r="2.65"/>
<circle cx="361.5" cy="168.4" r="2.65"/>
<circle cx="360.2" cy="170.6" r="2.65"/>
<circle cx="358.3" cy="171.5" r="2.65"/>
<circle cx="360.8" cy="172.6" r="2.65"/>
<circle cx="366.3" cy="170.3" r="2.65"/>
<circle cx="366.1" cy="172.3" r="2.65"/>
<circle cx="369.4" cy="170.3" r="2.65"/>
<circle cx="369.7" cy="172.6" r="2.65"/>
<circle cx="369.2" cy="173.8" r="2.65"/>
<circle cx="375.2" cy="175.2" r="2.65"/>
<circle cx="369.4" cy="178.4" r="2.65"/>
<circle cx="375.1" cy="178.4" r="2.65"/>
<circle cx="373.7" cy="173.2" r="2.65"/>
<circle cx="360.5" cy="147.3" r="2.65"/>
<circle cx="359.4" cy="150.6" r="2.65"/>
<circle cx="360.8" cy="150.6" r="2.65"/>
<circle cx="359.1" cy="151.4" r="2.65"/>
<circle cx="358.6" cy="152.1" r="2.65"/>
<circle cx="358.1" cy="152.9" r="2.65"/>
<circle cx="359.7" cy="152.1" r="2.65"/>
<circle cx="360.8" cy="152.5" r="2.65"/>
<circle cx="360.9" cy="153.2" r="2.65"/>
<circle cx="358.6" cy="153.6" r="2.65"/>
<circle cx="359.5" cy="154.1" r="2.65"/>
<circle cx="360.2" cy="154.1" r="2.65"/>
<circle cx="358.1" cy="154.7" r="2.65"/>
<circle cx="359.1" cy="154.9" r="2.65"/>
<circle cx="360.8" cy="155" r="2.65"/>
<circle cx="358" cy="155.9" r="2.65"/>
<circle cx="358.6" cy="157.2" r="2.65"/>
<circle cx="359.2" cy="157.4" r="2.65"/>
<circle cx="359.7" cy="157.4" r="2.65"/>
<circle cx="360.8" cy="158" r="2.65"/>
<circle cx="357.6" cy="159.1" r="2.65"/>
<circle cx="359.7" cy="159.1" r="2.65"/>
<circle cx="358.6" cy="161.2" r="2.65"/>
<circle cx="360.5" cy="162" r="2.65"/>
<circle cx="359.8" cy="160.2" r="2.65"/>
</g>
<g fill="#8a8a8a" stroke="#8a8a8a" stroke-width="2" stroke-linejoin="round">
<polygon points="372.6,198.5 368.3,206.1 376.9,206.1"/>
<polygon points="376.7,202.5 372.4,210.1 381,210.1"/>
<polygon points="380.2,204.6 375.9,212.2 384.5,212.2"/>
<polygon points="374.7,209.1 370.4,216.7 379,216.7"/>
<polygon points="369.5,203.4 365.2,211 373.8,211"/>
</g>
<g fill="#F2A088" stroke="#000" stroke-width="0.7">
<circle cx="363.3" cy="126.7" r="2.4"/>
<circle cx="366.7" cy="127.7" r="2.4"/>
<circle cx="369" cy="128.1" r="2.4"/>
<circle cx="361.2" cy="129.4" r="2.4"/>
<circle cx="366" cy="130.2" r="2.4"/>
<circle cx="365.8" cy="131.1" r="2.4"/>
<circle cx="364" cy="130.6" r="2.4"/>
<circle cx="362.1" cy="133.1" r="2.4"/>
<circle cx="367.9" cy="133" r="2.4"/>
<circle cx="365.1" cy="133.9" r="2.4"/>
<circle cx="366.4" cy="133.9" r="2.4"/>
<circle cx="366.9" cy="134.1" r="2.4"/>
<circle cx="367.7" cy="134.5" r="2.4"/>
<circle cx="368.4" cy="134.5" r="2.4"/>
<circle cx="369" cy="134.9" r="2.4"/>
<circle cx="362.7" cy="134.7" r="2.4"/>
<circle cx="365.8" cy="135.1" r="2.4"/>
<circle cx="366.4" cy="135.8" r="2.4"/>
<circle cx="365.5" cy="135.6" r="2.4"/>
<circle cx="367.2" cy="135.8" r="2.4"/>
<circle cx="365.8" cy="136.9" r="2.4"/>
<circle cx="363.6" cy="136.9" r="2.4"/>
<circle cx="361" cy="137.2" r="2.4"/>
<circle cx="362.3" cy="137.4" r="2.4"/>
<circle cx="363.6" cy="137.5" r="2.4"/>
<circle cx="369.7" cy="136.7" r="2.4"/>
<circle cx="369.8" cy="137.1" r="2.4"/>
<circle cx="362.9" cy="140" r="2.4"/>
<circle cx="364.9" cy="139.6" r="2.4"/>
<circle cx="367.1" cy="139.4" r="2.4"/>
<circle cx="366.4" cy="138.4" r="2.4"/>
<circle cx="367.8" cy="138.3" r="2.4"/>
<circle cx="364.6" cy="137.7" r="2.4"/>
<circle cx="365.9" cy="138.7" r="2.4"/>
<circle cx="363.3" cy="140.9" r="2.4"/>
<circle cx="367.1" cy="142.2" r="2.4"/>
<circle cx="368.9" cy="140.8" r="2.4"/>
<circle cx="369.7" cy="139.3" r="2.4"/>
<circle cx="363.6" cy="137.7" r="2.4"/>
<circle cx="364.4" cy="138.3" r="2.4"/>
<circle cx="366.8" cy="137.8" r="2.4"/>
<circle cx="370.3" cy="138" r="2.4"/>
<circle cx="365.1" cy="138.9" r="2.4"/>
<circle cx="366" cy="139.6" r="2.4"/>
<circle cx="364.1" cy="140.4" r="2.4"/>
<circle cx="365.5" cy="140.4" r="2.4"/>
<circle cx="363.9" cy="141.2" r="2.4"/>
<circle cx="365.6" cy="141.3" r="2.4"/>
<circle cx="366.5" cy="141.5" r="2.4"/>
<circle cx="369.9" cy="141.9" r="2.4"/>
<circle cx="368.1" cy="141.3" r="2.4"/>
<circle cx="368.9" cy="143.5" r="2.4"/>
<circle cx="369.4" cy="145.3" r="2.4"/>
<circle cx="372.7" cy="144" r="2.4"/>
<circle cx="370.6" cy="146.2" r="2.4"/>
<circle cx="370.9" cy="147.3" r="2.4"/>
<circle cx="371.4" cy="147.6" r="2.4"/>
<circle cx="370.2" cy="148.2" r="2.4"/>
<circle cx="370.4" cy="149.4" r="2.4"/>
<circle cx="369.2" cy="150.1" r="2.4"/>
<circle cx="363.8" cy="149.8" r="2.4"/>
<circle cx="367.9" cy="152.8" r="2.4"/>
<circle cx="370.3" cy="157.1" r="2.4"/>
<circle cx="371.5" cy="159" r="2.4"/>
<circle cx="369.3" cy="150.6" r="2.4"/>
<circle cx="361.9" cy="163.9" r="2.4"/>
<circle cx="373" cy="171.1" r="2.4"/>
</g>
<g fill="#FCDC16" stroke="#000" stroke-width="0.7">
<circle cx="362.2" cy="130.5" r="2.4"/>
<circle cx="363.6" cy="135.6" r="2.4"/>
<circle cx="367.1" cy="137" r="2.4"/>
<circle cx="363.9" cy="139.4" r="2.4"/>
<circle cx="365" cy="140.4" r="2.4"/>
<circle cx="366.8" cy="140.6" r="2.4"/>
</g>
<g fill="#B22222" stroke="#000" stroke-width="0.7">
<circle cx="370.7" cy="140.4" r="2.4"/>
</g>
<g fill="#006400" stroke="#000" stroke-width="0.7">
<circle cx="362.5" cy="137.8" r="2.4"/>
<circle cx="365.6" cy="138" r="2.4"/>
<circle cx="364.9" cy="142.5" r="2.4"/>
<circle cx="364.3" cy="148.8" r="2.4"/>
<circle cx="366.6" cy="162.5" r="2.4"/>
</g>
<g fill="#9A32CD" stroke="#000" stroke-width="0.7">
<circle cx="366.2" cy="114.9" r="2.4"/>
<circle cx="367.6" cy="140.3" r="2.4"/>
<circle cx="364.6" cy="146.3" r="2.4"/>
<circle cx="372.8" cy="154.9" r="2.4"/>
<circle cx="372.9" cy="156.4" r="2.4"/>
<circle cx="382.7" cy="158.5" r="2.4"/>
<circle cx="391.7" cy="156.6" r="2.4"/>
<circle cx="381.2" cy="178.3" r="2.4"/>
<circle cx="373.1" cy="172.4" r="2.4"/>
</g>
<g fill="#7DF0CC" stroke="#000" stroke-width="0.7">
<circle cx="368.4" cy="140.3" r="2.4"/>
<circle cx="362.5" cy="149.4" r="2.4"/>
<circle cx="367.5" cy="150.3" r="2.4"/>
<circle cx="367.5" cy="150.6" r="2.4"/>
<circle cx="369.2" cy="151.5" r="2.4"/>
<circle cx="369.1" cy="153.9" r="2.4"/>
<circle cx="369" cy="155" r="2.4"/>
<circle cx="369.2" cy="156" r="2.4"/>
<circle cx="370" cy="157.4" r="2.4"/>
<circle cx="369.9" cy="159" r="2.4"/>
<circle cx="371.6" cy="159.4" r="2.4"/>
<circle cx="372.2" cy="160.1" r="2.4"/>
<circle cx="373.7" cy="155" r="2.4"/>
<circle cx="373.8" cy="156.8" r="2.4"/>
<circle cx="373.5" cy="158.1" r="2.4"/>
<circle cx="373" cy="162.9" r="2.4"/>
<circle cx="367.1" cy="159.8" r="2.4"/>
<circle cx="377" cy="153.6" r="2.4"/>
<circle cx="381.5" cy="162.1" r="2.4"/>
<circle cx="378.4" cy="164.9" r="2.4"/>
<circle cx="378.6" cy="165.6" r="2.4"/>
<circle cx="376" cy="171.2" r="2.4"/>
<circle cx="379.4" cy="171.6" r="2.4"/>
<circle cx="378.3" cy="174.1" r="2.4"/>
<circle cx="378.1" cy="177.5" r="2.4"/>
<circle cx="375.4" cy="172.9" r="2.4"/>
<circle cx="375.2" cy="189.6" r="2.4"/>
<circle cx="370.7" cy="166.1" r="2.4"/>
<circle cx="374.1" cy="168" r="2.4"/>
<circle cx="371.7" cy="173.5" r="2.4"/>
</g>
<g fill="#000">
<polygon points="349.4,132.3 345.7,139.1 353.1,139.1"/>
<polygon points="354.5,132.9 350.8,139.7 358.2,139.7"/>
<polygon points="349.2,137.5 345.5,144.3 352.9,144.3"/>
<polygon points="354.3,137.9 350.6,144.7 358,144.7"/>
<polygon points="349.4,142.3 345.7,149.1 353.1,149.1"/>
<polygon points="354,142.7 350.3,149.5 357.7,149.5"/>
</g>
<g fill="#6FCF2F" stroke="#000" stroke-width="1.4">
<rect x="368" y="151.6" width="5.6" height="5.6"/>
<rect x="369.2" y="160.6" width="5.6" height="5.6"/>
</g>
<g fill="#8B4513" stroke="#000" stroke-width="1.4">
<rect x="362.6" y="141.3" width="5.6" height="5.6"/>
<rect x="364.6" y="144.4" width="5.6" height="5.6"/>
<rect x="366.4" y="145" width="5.6" height="5.6"/>
<rect x="360.6" y="142.9" width="5.6" height="5.6"/>
<rect x="364" y="142.8" width="5.6" height="5.6"/>
<rect x="363.2" y="144.7" width="5.6" height="5.6"/>
<rect x="361.6" y="142.4" width="5.6" height="5.6"/>
<rect x="365.1" y="141" width="5.6" height="5.6"/>
<rect x="362.3" y="143.5" width="5.6" height="5.6"/>
<rect x="363.6" y="148.7" width="5.6" height="5.6"/>
<rect x="365.8" y="149.6" width="5.6" height="5.6"/>
<rect x="362.9" y="151.4" width="5.6" height="5.6"/>
<rect x="363" y="152.5" width="5.6" height="5.6"/>
<rect x="364" y="158.8" width="5.6" height="5.6"/>
</g>
<g fill="#D2691E" stroke="#000" stroke-width="1.4">
<rect x="360.1" y="136.1" width="5.6" height="5.6"/>
<rect x="359.2" y="139.3" width="5.6" height="5.6"/>
<rect x="367.5" y="140.4" width="5.6" height="5.6"/>
<rect x="365.6" y="139.8" width="5.6" height="5.6"/>
<rect x="364.2" y="141.4" width="5.6" height="5.6"/>
<rect x="361" y="141.5" width="5.6" height="5.6"/>
<rect x="359.4" y="141.5" width="5.6" height="5.6"/>
<rect x="368.5" y="143.6" width="5.6" height="5.6"/>
<rect x="365.8" y="144" width="5.6" height="5.6"/>
<rect x="364.7" y="145.3" width="5.6" height="5.6"/>
<rect x="362.8" y="140.7" width="5.6" height="5.6"/>
<rect x="363.2" y="147.5" width="5.6" height="5.6"/>
<rect x="363.8" y="147.5" width="5.6" height="5.6"/>
<rect x="362.8" y="148" width="5.6" height="5.6"/>
<rect x="362" y="149.2" width="5.6" height="5.6"/>
<rect x="361.1" y="151" width="5.6" height="5.6"/>
<rect x="364.1" y="151.9" width="5.6" height="5.6"/>
<rect x="363.4" y="153.8" width="5.6" height="5.6"/>
<rect x="369.2" y="159.7" width="5.6" height="5.6"/>
<rect x="368.4" y="164.9" width="5.6" height="5.6"/>
<rect x="368.8" y="168.8" width="5.6" height="5.6"/>
</g>
<g fill="#B0EE5E" stroke="#000" stroke-width="1.4">
<rect x="367" y="152.3" width="5.6" height="5.6"/>
<rect x="365.3" y="153.8" width="5.6" height="5.6"/>
<rect x="365.3" y="154.8" width="5.6" height="5.6"/>
<rect x="366.6" y="154.9" width="5.6" height="5.6"/>
<rect x="367.8" y="156" width="5.6" height="5.6"/>
<rect x="369" y="155.3" width="5.6" height="5.6"/>
<rect x="369.7" y="155.7" width="5.6" height="5.6"/>
<rect x="373.4" y="155.7" width="5.6" height="5.6"/>
<rect x="365.5" y="158.4" width="5.6" height="5.6"/>
<rect x="367.5" y="158.9" width="5.6" height="5.6"/>
<rect x="366.1" y="159.8" width="5.6" height="5.6"/>
<rect x="367.2" y="159.9" width="5.6" height="5.6"/>
<rect x="370.5" y="158.1" width="5.6" height="5.6"/>
<rect x="371.2" y="157.9" width="5.6" height="5.6"/>
<rect x="370.9" y="158.9" width="5.6" height="5.6"/>
<rect x="371.7" y="160.6" width="5.6" height="5.6"/>
<rect x="379.3" y="148.2" width="5.6" height="5.6"/>
<rect x="373.4" y="155.7" width="5.6" height="5.6"/>
<rect x="373.1" y="166.1" width="5.6" height="5.6"/>
<rect x="372.6" y="162.4" width="5.6" height="5.6"/>
<rect x="377.8" y="168.6" width="5.6" height="5.6"/>
<rect x="369.7" y="161.7" width="5.6" height="5.6"/>
<rect x="369" y="162.8" width="5.6" height="5.6"/>
<rect x="372.3" y="162.4" width="5.6" height="5.6"/>
<rect x="366.3" y="163" width="5.6" height="5.6"/>
<rect x="368.3" y="165.4" width="5.6" height="5.6"/>
<rect x="372.1" y="165.3" width="5.6" height="5.6"/>
<rect x="366.2" y="166.2" width="5.6" height="5.6"/>
<rect x="368.6" y="166.5" width="5.6" height="5.6"/>
<rect x="368.8" y="168.1" width="5.6" height="5.6"/>
<rect x="371.8" y="170.2" width="5.6" height="5.6"/>
<rect x="370.9" y="173.7" width="5.6" height="5.6"/>
<rect x="371.8" y="174.8" width="5.6" height="5.6"/>
</g>
<g fill="#FF7F24" stroke="#000" stroke-width="1.4">
<rect x="361.7" y="127.9" width="5.6" height="5.6"/>
<rect x="358.8" y="137.9" width="5.6" height="5.6"/>
<rect x="373.1" y="141" width="5.6" height="5.6"/>
<rect x="361.2" y="144.3" width="5.6" height="5.6"/>
<rect x="370" y="146" width="5.6" height="5.6"/>
<rect x="362" y="144.8" width="5.6" height="5.6"/>
<rect x="362.6" y="149.3" width="5.6" height="5.6"/>
<rect x="364.7" y="149.1" width="5.6" height="5.6"/>
<rect x="369.4" y="150.4" width="5.6" height="5.6"/>
<rect x="371.3" y="150.5" width="5.6" height="5.6"/>
<rect x="361.8" y="153.2" width="5.6" height="5.6"/>
<rect x="360.7" y="154.8" width="5.6" height="5.6"/>
<rect x="367.4" y="153.1" width="5.6" height="5.6"/>
<rect x="373.1" y="141.1" width="5.6" height="5.6"/>
<rect x="373.6" y="170.4" width="5.6" height="5.6"/>
</g>
<g fill="#FFA500" stroke="#000" stroke-width="1.4">
<rect x="356.4" y="126.3" width="5.6" height="5.6"/>
<rect x="368.6" y="131.2" width="5.6" height="5.6"/>
<rect x="370" y="134.3" width="5.6" height="5.6"/>
<rect x="365.6" y="134.3" width="5.6" height="5.6"/>
<rect x="366.2" y="135.2" width="5.6" height="5.6"/>
<rect x="364.4" y="135.9" width="5.6" height="5.6"/>
<rect x="361.9" y="138.7" width="5.6" height="5.6"/>
<rect x="364.7" y="138.8" width="5.6" height="5.6"/>
<rect x="363.6" y="139.8" width="5.6" height="5.6"/>
<rect x="360.4" y="140.3" width="5.6" height="5.6"/>
<rect x="362" y="141.3" width="5.6" height="5.6"/>
<rect x="363.1" y="142.1" width="5.6" height="5.6"/>
<rect x="367.4" y="141.8" width="5.6" height="5.6"/>
<rect x="365.1" y="142.6" width="5.6" height="5.6"/>
<rect x="359.4" y="142.5" width="5.6" height="5.6"/>
<rect x="363.1" y="143.5" width="5.6" height="5.6"/>
<rect x="364.1" y="143.6" width="5.6" height="5.6"/>
<rect x="359.9" y="144.1" width="5.6" height="5.6"/>
<rect x="365.7" y="145.1" width="5.6" height="5.6"/>
<rect x="363.3" y="145.7" width="5.6" height="5.6"/>
<rect x="359.8" y="145.4" width="5.6" height="5.6"/>
<rect x="359.2" y="149.1" width="5.6" height="5.6"/>
<rect x="362.4" y="150.2" width="5.6" height="5.6"/>
<rect x="367.5" y="151.1" width="5.6" height="5.6"/>
<rect x="364.3" y="156.4" width="5.6" height="5.6"/>
<rect x="368.5" y="158.8" width="5.6" height="5.6"/>
</g>
<g fill="#FF4040" stroke="#000" stroke-width="1.4">
<rect x="366.4" y="139.3" width="5.6" height="5.6"/>
</g>
<g fill="#B0EE5E" stroke="#000" stroke-width="1.4">
<rect x="381.6" y="271.7" width="5.6" height="5.6"/>
<rect x="382.9" y="205.2" width="5.6" height="5.6"/>
</g>
<g fill="#000">
<rect x="395.4" y="180.4" width="5.2" height="5.2"/>
<rect x="383.7" y="200.4" width="5.2" height="5.2"/>
</g>
<g fill="none" stroke="#556B2F" stroke-width="2.3" stroke-linejoin="round">
<rect x="362" y="72.6" width="6.7" height="6.7"/>
<rect x="358.3" y="79.2" width="6.7" height="6.7"/>
<rect x="361.8" y="79.7" width="6.7" height="6.7"/>
<rect x="367.2" y="78" width="6.7" height="6.7"/>
<rect x="365.9" y="83.8" width="6.7" height="6.7"/>
<rect x="368.1" y="84.7" width="6.7" height="6.7"/>
<rect x="363.2" y="89" width="6.7" height="6.7"/>
<rect x="361.8" y="85.7" width="6.7" height="6.7"/>
</g>
<g fill="none" stroke="#FF8C00" stroke-width="2.5" stroke-linejoin="round">
<polygon points="400.3,166 395.9,173.6 404.7,173.6"/>
<polygon points="406.9,174.1 402.5,181.7 411.3,181.7"/>
<polygon points="393.5,178.6 389.1,186.2 397.9,186.2"/>
<polygon points="408.7,180.4 404.3,188 413.1,188"/>
<polygon points="398.8,181.3 394.4,188.9 403.2,188.9"/>
<polygon points="403.3,184.9 398.9,192.5 407.7,192.5"/>
<polygon points="406.9,188.4 402.5,196 411.3,196"/>
<polygon points="397,186.7 392.6,194.3 401.4,194.3"/>
<polygon points="401.5,192 397.1,199.6 405.9,199.6"/>
<polygon points="406.9,193.8 402.5,201.4 411.3,201.4"/>
<polygon points="405.1,197.4 400.7,205 409.5,205"/>
<polygon points="399.7,197.4 395.3,205 404.1,205"/>
<polygon points="403,179.4 398.6,187 407.4,187"/>
<polygon points="401,188.4 396.6,196 405.4,196"/>
<polygon points="404,194.4 399.6,202 408.4,202"/>
</g>
<g fill="none" stroke="#8F4A14" stroke-width="2.4" stroke-linejoin="round">
<polygon points="397.3,190.1 392.8,197.9 401.8,197.9" stroke="#B8860B"/>
<polygon points="400.2,199.8 395.7,207.8 404.7,207.8" fill="#8F4A14" stroke="#8F4A14" stroke-width="3" stroke-linejoin="round"/>
</g>
<g fill="none" stroke="#B8860B" stroke-width="2.4" stroke-linejoin="round">
<polygon points="389.5,198.1 385,205.9 394,205.9"/>
<polygon points="392.5,201.6 388,209.4 397,209.4"/>
<polygon points="380.7,215.8 377,223.8 384.4,223.8" fill="#B8860B" stroke-width="3.2" stroke-linejoin="round"/>
</g>
<g fill="none" stroke="#B22020" stroke-width="2.6" stroke-linejoin="round">
<polygon points="326.3,153.4 330.8,157.9 326.3,162.4 321.8,157.9"/>
<polygon points="324.7,161.4 329.2,165.9 324.7,170.4 320.2,165.9"/>
<polygon points="332,162.1 336.5,166.6 332,171.1 327.5,166.6"/>
<polygon points="320.7,165.8 325.2,170.3 320.7,174.8 316.2,170.3"/>
<polygon points="327.6,168.5 332.1,173 327.6,177.5 323.1,173"/>
</g>
<g fill="none" stroke="#0E96CC" stroke-width="2.6" stroke-linejoin="round">
<polygon points="327.7,200.5 332.2,205 327.7,209.5 323.2,205"/>
<polygon points="329.6,204.9 334.1,209.4 329.6,213.9 325.1,209.4"/>
<polygon points="310.2,227.5 314.7,232 310.2,236.5 305.7,232"/>
<polygon points="325.6,227.5 330.1,232 325.6,236.5 321.1,232"/>
<polygon points="340.4,241 344.9,245.5 340.4,250 335.9,245.5"/>
</g>
</g>
<g stroke="#000" stroke-width="1.2" fill="none">
<path d="M53.5,21.6V407.6H244.6"/>
<path d="M301.8,21.6V407.6H493"/>
<path d="M50.2,39.4H53.5"/>
<path d="M50.2,109.5H53.5"/>
<path d="M50.2,179.7H53.5"/>
<path d="M50.2,249.8H53.5"/>
<path d="M50.2,320H53.5"/>
<path d="M50.2,390.1H53.5"/>
<path d="M62,407.6V410.8"/>
<path d="M105.6,407.6V410.8"/>
<path d="M149.2,407.6V410.8"/>
<path d="M192.8,407.6V410.8"/>
<path d="M236.4,407.6V410.8"/>
<path d="M298.5,144H301.8"/>
<path d="M298.5,296.9H301.8"/>
<path d="M310.5,407.6V410.8"/>
<path d="M351,407.6V410.8"/>
<path d="M391.5,407.6V410.8"/>
<path d="M432.3,407.6V410.8"/>
<path d="M473,407.6V410.8"/>
</g>
<g font-size="12.6" fill="#000">
<text x="47.6" y="43.8" text-anchor="end">0.02</text>
<text x="47.6" y="113.9" text-anchor="end">0.01</text>
<text x="47.6" y="184.1" text-anchor="end">0.00</text>
<text x="47.6" y="254.2" text-anchor="end">-0.01</text>
<text x="47.6" y="324.4" text-anchor="end">-0.02</text>
<text x="47.6" y="394.5" text-anchor="end">-0.03</text>
<text x="62" y="423" text-anchor="middle">-0.04</text>
<text x="105.6" y="423" text-anchor="middle">-0.03</text>
<text x="149.2" y="423" text-anchor="middle">-0.02</text>
<text x="192.8" y="423" text-anchor="middle">-0.01</text>
<text x="236.4" y="423" text-anchor="middle">0.00</text>
<text x="296" y="148.4" text-anchor="end">0.0</text>
<text x="296" y="301.3" text-anchor="end">-0.1</text>
<text x="310.5" y="423" text-anchor="middle">-0.10</text>
<text x="351" y="423" text-anchor="middle">-0.05</text>
<text x="391.5" y="423" text-anchor="middle">0.00</text>
<text x="432.3" y="423" text-anchor="middle">0.05</text>
<text x="473" y="423" text-anchor="middle">0.10</text>
</g>
<text x="272.8" y="445.2" font-size="16" text-anchor="middle">PC1</text>
<text transform="translate(12.6,215.5) rotate(-90)" font-size="16" text-anchor="middle">PC2 * -1</text>
<text x="510.8" y="15.8" font-size="11.7">PopGroup</text>
<rect x="511" y="23.6" width="18.1" height="259.5" fill="#f0f0f0"/>
<rect x="511" y="312.4" width="18.1" height="111.2" fill="#f0f0f0"/>
<g font-size="9.4">
<circle cx="519.9" cy="32.9" r="2.4" fill="#F2A088" stroke="#000" stroke-width="0.6"/>
<text x="535.1" y="36.2">Czech_Bohemia_Unetice_EBA</text>
<circle cx="519.9" cy="51.4" r="2.4" fill="#FCDC16" stroke="#000" stroke-width="0.6"/>
<text x="535.1" y="54.7">Czech_EBA</text>
<circle cx="519.9" cy="69.9" r="2.4" fill="#B22222" stroke="#000" stroke-width="0.6"/>
<text x="535.1" y="73.2">Czech_EBA_Unetice</text>
<rect x="517.1" y="85.7" width="5.6" height="5.6" fill="#FF7F24" stroke="#000" stroke-width="1.45"/>
<text x="535.1" y="91.8">Drasenhofen</text>
<rect x="517.1" y="104.2" width="5.6" height="5.6" fill="#6FCF2F" stroke="#000" stroke-width="1.45"/>
<text x="535.1" y="110.3">Franzhausen</text>
<circle cx="519.9" cy="125.6" r="2.4" fill="#006400" stroke="#000" stroke-width="0.6"/>
<text x="535.1" y="128.9">Germany_EBA_Unetice</text>
<circle cx="519.9" cy="144.1" r="2.4" fill="#9A32CD" stroke="#000" stroke-width="0.6"/>
<text x="535.1" y="147.4">Germany_Lech_BellBeaker</text>
<circle cx="519.9" cy="162.6" r="2.4" fill="#7DF0CC" stroke="#000" stroke-width="0.6"/>
<text x="535.1" y="165.9">Germany_Lech_EBA</text>
<polygon points="519.9,177.2 516.3,183.8 523.5,183.8" fill="#000"/>
<text x="535.1" y="184.5">Latvia_BA</text>
<rect x="517.1" y="196.9" width="5.6" height="5.6" fill="#B0EE5E" stroke="#000" stroke-width="1.45"/>
<text x="535.1" y="203">Pottenbrunn</text>
<rect x="517.1" y="215.5" width="5.6" height="5.6" fill="#8B4513" stroke="#000" stroke-width="1.45"/>
<text x="535.1" y="221.6">Schleinbach</text>
<rect x="517.1" y="234" width="5.6" height="5.6" fill="#D2691E" stroke="#000" stroke-width="1.45"/>
<text x="535.1" y="240.1">Ulrichskirchen</text>
<rect x="517.1" y="252.5" width="5.6" height="5.6" fill="#FFA500" stroke="#000" stroke-width="1.45"/>
<text x="535.1" y="258.6">Unterhautzental</text>
<rect x="517.1" y="271.1" width="5.6" height="5.6" fill="#FF4040" stroke="#000" stroke-width="1.45"/>
<text x="535.1" y="277.2">Zwingendorf</text>
<polygon points="519.9,317.7 515.5,325.3 524.3,325.3" fill="none" stroke="#FF8C00" stroke-width="2.5" stroke-linejoin="round"/>
<text x="535.1" y="325">Anatolia_N</text>
<polygon points="519.9,336.2 515.5,343.9 524.3,343.9" fill="none" stroke="#8F4A14" stroke-width="2.5" stroke-linejoin="round"/>
<text x="535.1" y="343.5">Austria_EN_LBK</text>
<polygon points="519.9,354.8 515.5,362.4 524.3,362.4" fill="none" stroke="#C8920E" stroke-width="2.5" stroke-linejoin="round"/>
<text x="535.1" y="362.1">France_MN</text>
<rect x="518.1" y="374.3" width="6.6" height="6.6" fill="none" stroke="#556B2F" stroke-width="2.45" stroke-linejoin="round"/>
<text x="535.1" y="380.6">Russia_EBA_Yamnaya_Samara</text>
<polygon points="521.4,391.6 525.8,396 521.4,400.4 517,396" fill="none" stroke="#B22222" stroke-width="2.6" stroke-linejoin="round"/>
<text x="535.1" y="399.1">Sweden_HG_Motala</text>
<polygon points="521.4,410.2 525.8,414.6 521.4,419 517,414.6" fill="none" stroke="#0E96CC" stroke-width="2.6" stroke-linejoin="round"/>
<text x="535.1" y="417.7">WHG</text>
</g>
</svg>
</body></html>
